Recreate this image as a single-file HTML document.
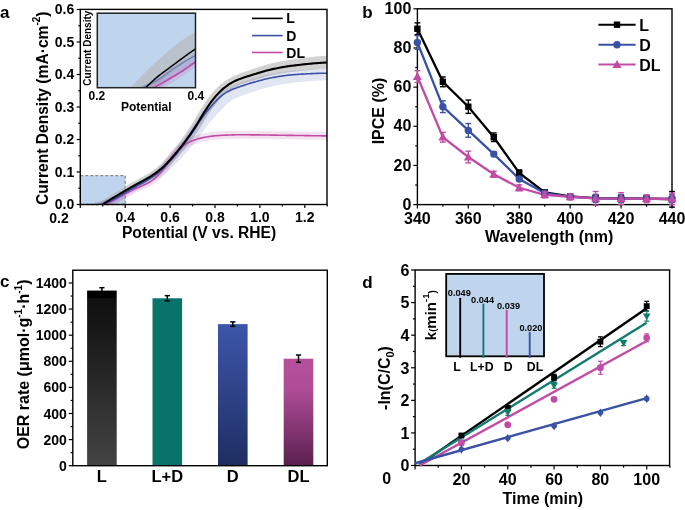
<!DOCTYPE html><html><head><meta charset="utf-8"><style>html,body{margin:0;padding:0;background:#fff;}svg{display:block;will-change:transform;}text{font-family:"Liberation Sans", sans-serif;}</style></head><body><svg width="685" height="510" viewBox="0 0 685 510" font-family='"Liberation Sans", sans-serif'>
<rect width="685" height="510" fill="#fff"/>
<defs>
<clipPath id="ca"><rect x="80.3" y="9.4" width="246.7" height="195.1"/></clipPath>
<clipPath id="ci"><rect x="97.3" y="13.2" width="98.2" height="74.5"/></clipPath>
</defs>
<rect x="80.3" y="175.57" width="44.90" height="28.93" fill="#bfd5ee" stroke="#8a8a8a" stroke-width="1.3" stroke-dasharray="3,2"/>
<g clip-path="url(#ca)">
<path d="M78.39,216.19 L79.24,215.64 L80.08,215.08 L80.93,214.53 L81.78,213.97 L82.62,213.42 L83.47,212.86 L84.32,212.31 L85.16,211.75 L86.01,211.20 L86.86,210.64 L87.71,210.09 L88.55,209.53 L89.40,208.98 L90.25,208.42 L91.09,207.87 L91.94,207.31 L92.79,206.76 L93.63,206.20 L94.48,205.65 L95.33,205.09 L96.17,204.54 L97.02,203.98 L97.87,203.43 L98.72,202.87 L99.56,202.32 L100.39,201.77 L101.22,201.22 L102.06,200.64 L102.93,200.07 L103.79,199.49 L104.65,198.93 L105.52,198.37 L106.38,197.82 L107.25,197.27 L108.12,196.73 L108.99,196.20 L109.86,195.68 L110.72,195.17 L111.58,194.67 L112.42,194.17 L113.26,193.68 L114.09,193.19 L114.92,192.70 L115.75,192.19 L116.59,191.68 L117.43,191.16 L118.27,190.64 L119.12,190.11 L119.98,189.58 L120.84,189.06 L121.70,188.53 L122.57,188.02 L123.43,187.51 L124.28,187.01 L125.14,186.51 L125.99,186.02 L126.85,185.53 L127.70,185.04 L128.55,184.55 L129.40,184.07 L130.25,183.59 L131.10,183.10 L131.95,182.62 L132.80,182.14 L133.66,181.65 L134.52,181.18 L135.38,180.70 L136.24,180.24 L137.09,179.77 L137.94,179.31 L138.79,178.86 L139.63,178.40 L140.47,177.94 L141.31,177.48 L142.14,177.02 L142.98,176.56 L143.80,176.09 L144.63,175.62 L145.45,175.14 L146.28,174.66 L147.10,174.17 L147.92,173.66 L148.74,173.15 L149.56,172.63 L150.38,172.09 L151.19,171.56 L152.01,171.01 L152.82,170.44 L153.63,169.87 L154.43,169.28 L155.24,168.67 L156.05,168.05 L156.85,167.41 L157.66,166.75 L158.47,166.07 L159.28,165.38 L160.09,164.66 L160.90,163.93 L161.70,163.19 L162.51,162.41 L163.32,161.61 L164.13,160.78 L164.95,159.93 L165.77,159.06 L166.60,158.17 L167.42,157.27 L168.23,156.34 L169.04,155.40 L169.85,154.43 L170.66,153.45 L171.48,152.44 L172.30,151.41 L173.13,150.38 L173.95,149.33 L174.78,148.27 L175.60,147.21 L176.43,146.14 L177.25,145.06 L178.08,143.97 L178.90,142.87 L179.72,141.77 L180.55,140.65 L181.37,139.52 L182.19,138.39 L183.02,137.24 L183.84,136.08 L184.66,134.91 L185.49,133.73 L186.30,132.54 L187.12,131.34 L187.94,130.11 L188.76,128.87 L189.58,127.61 L190.40,126.34 L191.23,125.05 L192.05,123.75 L192.88,122.43 L193.69,121.13 L194.50,119.79 L195.31,118.42 L196.13,117.01 L196.96,115.57 L197.80,114.13 L198.65,112.69 L199.51,111.25 L200.38,109.84 L201.24,108.49 L202.09,107.18 L202.93,105.88 L203.78,104.59 L204.63,103.29 L205.49,102.01 L206.35,100.75 L207.22,99.50 L208.10,98.28 L208.99,97.08 L209.88,95.92 L210.79,94.80 L211.67,93.75 L212.54,92.73 L213.42,91.74 L214.30,90.76 L215.18,89.80 L216.07,88.86 L216.97,87.95 L217.88,87.06 L218.79,86.20 L219.71,85.37 L220.64,84.57 L221.57,83.81 L222.47,83.10 L223.37,82.41 L224.27,81.75 L225.18,81.10 L226.09,80.47 L227.00,79.86 L227.92,79.27 L228.84,78.70 L229.77,78.16 L230.71,77.63 L231.65,77.13 L232.58,76.66 L233.51,76.22 L234.43,75.79 L235.34,75.39 L236.24,75.00 L237.14,74.63 L238.03,74.27 L238.91,73.92 L239.78,73.59 L240.64,73.26 L241.50,72.94 L242.36,72.61 L243.24,72.29 L244.12,71.97 L245.00,71.67 L245.88,71.37 L246.74,71.08 L247.60,70.80 L248.45,70.52 L249.30,70.24 L250.14,69.97 L250.97,69.69 L251.80,69.42 L252.64,69.14 L253.48,68.86 L254.32,68.58 L255.16,68.29 L256.01,68.01 L256.86,67.73 L257.71,67.44 L258.57,67.16 L259.42,66.88 L260.28,66.61 L261.15,66.33 L262.01,66.06 L262.88,65.79 L263.75,65.53 L264.63,65.26 L265.51,65.01 L266.39,64.76 L267.27,64.51 L268.16,64.28 L269.05,64.04 L269.94,63.82 L270.82,63.61 L271.69,63.40 L272.55,63.20 L273.41,63.00 L274.27,62.80 L275.13,62.61 L276.00,62.42 L276.86,62.23 L277.73,62.04 L278.59,61.86 L279.46,61.68 L280.32,61.50 L281.19,61.33 L282.06,61.16 L282.93,61.00 L283.80,60.84 L284.67,60.69 L285.54,60.53 L286.41,60.38 L287.28,60.24 L288.15,60.10 L289.03,59.96 L289.90,59.82 L290.78,59.70 L291.64,59.57 L292.50,59.45 L293.35,59.33 L294.20,59.21 L295.05,59.09 L295.90,58.97 L296.76,58.85 L297.61,58.74 L298.46,58.62 L299.32,58.51 L300.17,58.39 L301.03,58.28 L301.88,58.17 L302.74,58.06 L303.59,57.95 L304.45,57.84 L305.31,57.73 L306.17,57.63 L307.03,57.52 L307.88,57.42 L308.74,57.32 L309.60,57.22 L310.46,57.12 L311.33,57.03 L312.19,56.93 L313.05,56.84 L313.91,56.75 L314.77,56.66 L315.64,56.58 L316.50,56.49 L317.37,56.41 L318.23,56.33 L319.10,56.26 L319.97,56.18 L320.83,56.11 L321.70,56.04 L322.57,55.97 L323.44,55.91 L324.31,55.85 L325.18,55.79 L326.05,55.74 L326.75,55.69 L327.43,55.63 L328.27,55.55 L329.11,55.47 L329.96,55.39 L330.81,55.32 L331.66,55.24 L332.51,55.16 L333.36,55.08 L334.59,68.32 L333.74,68.40 L332.89,68.48 L332.04,68.56 L331.19,68.64 L330.34,68.72 L329.49,68.79 L328.64,68.87 L327.63,68.96 L326.64,69.00 L325.81,69.03 L324.98,69.06 L324.16,69.09 L323.33,69.13 L322.50,69.17 L321.67,69.21 L320.84,69.26 L320.01,69.30 L319.18,69.35 L318.34,69.40 L317.51,69.46 L316.68,69.51 L315.85,69.57 L315.01,69.63 L314.18,69.70 L313.34,69.76 L312.51,69.83 L311.67,69.90 L310.84,69.97 L310.00,70.04 L309.16,70.11 L308.32,70.19 L307.49,70.27 L306.65,70.34 L305.81,70.42 L304.97,70.51 L304.13,70.59 L303.29,70.67 L302.45,70.76 L301.61,70.85 L300.76,70.93 L299.92,71.02 L299.08,71.11 L298.24,71.20 L297.39,71.30 L296.55,71.39 L295.70,71.48 L294.86,71.58 L294.01,71.67 L293.17,71.77 L292.34,71.86 L291.52,71.96 L290.70,72.06 L289.87,72.17 L289.05,72.28 L288.23,72.39 L287.40,72.51 L286.58,72.63 L285.75,72.75 L284.92,72.88 L284.10,73.01 L283.27,73.15 L282.44,73.28 L281.61,73.42 L280.78,73.57 L279.95,73.72 L279.12,73.87 L278.29,74.02 L277.46,74.18 L276.63,74.33 L275.79,74.50 L274.96,74.66 L274.13,74.83 L273.30,75.00 L272.49,75.17 L271.69,75.34 L270.88,75.52 L270.08,75.71 L269.27,75.91 L268.45,76.11 L267.64,76.32 L266.82,76.53 L266.00,76.76 L265.17,76.98 L264.35,77.21 L263.52,77.45 L262.68,77.69 L261.85,77.93 L261.01,78.18 L260.17,78.43 L259.32,78.68 L258.47,78.94 L257.62,79.19 L256.77,79.45 L255.92,79.70 L255.06,79.96 L254.20,80.21 L253.34,80.47 L252.48,80.72 L251.63,80.96 L250.79,81.21 L249.95,81.46 L249.13,81.70 L248.31,81.96 L247.50,82.21 L246.69,82.47 L245.88,82.74 L245.05,83.02 L244.21,83.31 L243.38,83.59 L242.56,83.88 L241.75,84.17 L240.95,84.47 L240.16,84.77 L239.38,85.08 L238.60,85.39 L237.83,85.71 L237.06,86.05 L236.30,86.39 L235.55,86.76 L234.80,87.15 L234.03,87.57 L233.26,88.01 L232.49,88.47 L231.71,88.95 L230.92,89.46 L230.14,89.99 L229.34,90.54 L228.54,91.11 L227.75,91.70 L226.98,92.29 L226.22,92.90 L225.45,93.56 L224.67,94.26 L223.88,95.00 L223.08,95.77 L222.27,96.57 L221.46,97.41 L220.64,98.27 L219.81,99.16 L218.99,100.08 L218.17,101.00 L217.38,101.94 L216.58,102.93 L215.77,103.97 L214.94,105.06 L214.11,106.20 L213.28,107.37 L212.43,108.57 L211.59,109.80 L210.73,111.05 L209.87,112.32 L209.02,113.58 L208.18,114.83 L207.35,116.12 L206.51,117.45 L205.66,118.83 L204.80,120.24 L203.94,121.66 L203.06,123.09 L202.18,124.51 L201.28,125.91 L200.40,127.26 L199.53,128.58 L198.65,129.89 L197.78,131.19 L196.90,132.48 L196.02,133.76 L195.13,135.02 L194.25,136.26 L193.36,137.49 L192.47,138.70 L191.58,139.88 L190.70,141.06 L189.82,142.22 L188.94,143.37 L188.05,144.51 L187.17,145.64 L186.29,146.76 L185.41,147.87 L184.52,148.96 L183.64,150.05 L182.76,151.13 L181.88,152.20 L181.00,153.25 L180.12,154.30 L179.24,155.34 L178.36,156.38 L177.48,157.41 L176.59,158.43 L175.70,159.43 L174.80,160.43 L173.91,161.40 L173.01,162.36 L172.12,163.28 L171.23,164.19 L170.34,165.09 L169.45,165.98 L168.55,166.85 L167.64,167.70 L166.73,168.53 L165.83,169.33 L164.92,170.10 L164.02,170.86 L163.12,171.59 L162.22,172.30 L161.32,172.99 L160.42,173.67 L159.52,174.32 L158.62,174.96 L157.72,175.58 L156.82,176.18 L155.92,176.76 L155.03,177.33 L154.14,177.88 L153.25,178.42 L152.37,178.94 L151.48,179.46 L150.60,179.96 L149.71,180.46 L148.84,180.96 L147.97,181.46 L147.10,181.95 L146.24,182.43 L145.38,182.91 L144.52,183.38 L143.66,183.84 L142.81,184.30 L141.96,184.76 L141.11,185.21 L140.26,185.67 L139.42,186.12 L138.58,186.58 L137.74,187.04 L136.90,187.50 L136.07,187.97 L135.23,188.44 L134.38,188.92 L133.53,189.40 L132.68,189.87 L131.84,190.35 L130.99,190.83 L130.15,191.31 L129.30,191.80 L128.46,192.28 L127.62,192.77 L126.78,193.25 L125.94,193.75 L125.11,194.24 L124.27,194.74 L123.44,195.25 L122.59,195.76 L121.75,196.28 L120.90,196.81 L120.05,197.33 L119.19,197.86 L118.32,198.38 L117.46,198.89 L116.60,199.39 L115.75,199.89 L114.90,200.38 L114.05,200.87 L113.22,201.37 L112.39,201.86 L111.56,202.36 L110.73,202.87 L109.90,203.39 L109.07,203.92 L108.23,204.46 L107.40,205.00 L106.56,205.55 L105.73,206.11 L104.88,206.68 L104.01,207.26 L103.15,207.82 L102.30,208.37 L101.45,208.93 L100.60,209.48 L99.75,210.03 L98.91,210.58 L98.06,211.14 L97.21,211.69 L96.36,212.24 L95.51,212.80 L94.66,213.35 L93.82,213.90 L92.97,214.45 L92.12,215.01 L91.27,215.56 L90.42,216.11 L89.57,216.66 L88.73,217.22 L87.88,217.77 L87.03,218.32 L86.18,218.88 L85.33,219.43 L84.48,219.98 L83.63,220.53 L82.79,221.09 L81.94,221.64 Z" fill="#b5b5b5" fill-opacity="0.61"/>
<path d="M79.46,207.07 L80.31,206.82 L81.15,206.58 L82.00,206.33 L82.85,206.08 L83.70,205.83 L84.55,205.58 L85.40,205.34 L86.25,205.09 L87.09,204.84 L87.94,204.59 L88.79,204.34 L89.64,204.09 L90.49,203.85 L91.34,203.60 L92.18,203.35 L93.03,203.10 L93.88,202.85 L94.73,202.60 L95.58,202.36 L96.43,202.11 L97.28,201.86 L98.28,201.57 L99.25,201.40 L100.03,201.24 L100.81,201.06 L101.60,200.86 L102.39,200.64 L103.19,200.41 L104.00,200.16 L104.81,199.90 L105.62,199.62 L106.44,199.34 L107.27,199.04 L108.08,198.73 L108.86,198.44 L109.61,198.11 L110.37,197.75 L111.16,197.35 L111.97,196.92 L112.79,196.47 L113.63,196.01 L114.48,195.53 L115.33,195.06 L116.16,194.60 L116.98,194.13 L117.81,193.65 L118.64,193.15 L119.48,192.65 L120.33,192.14 L121.19,191.63 L122.05,191.12 L122.91,190.62 L123.76,190.12 L124.61,189.63 L125.46,189.13 L126.31,188.63 L127.15,188.14 L128.00,187.65 L128.85,187.15 L129.69,186.66 L130.54,186.17 L131.38,185.68 L132.23,185.19 L133.08,184.69 L133.94,184.20 L134.80,183.71 L135.65,183.23 L136.50,182.76 L137.35,182.28 L138.20,181.81 L139.04,181.34 L139.88,180.87 L140.72,180.40 L141.56,179.93 L142.39,179.46 L143.22,178.98 L144.05,178.50 L144.88,178.01 L145.70,177.51 L146.52,177.01 L147.34,176.49 L148.16,175.97 L148.99,175.43 L149.81,174.89 L150.62,174.33 L151.44,173.77 L152.25,173.19 L153.06,172.60 L153.87,171.99 L154.68,171.37 L155.49,170.73 L156.29,170.07 L157.10,169.38 L157.91,168.67 L158.72,167.95 L159.54,167.20 L160.36,166.43 L161.17,165.66 L161.97,164.86 L162.78,164.03 L163.59,163.17 L164.41,162.28 L165.24,161.37 L166.08,160.44 L166.92,159.50 L167.77,158.56 L168.61,157.62 L169.44,156.69 L170.28,155.75 L171.11,154.80 L171.94,153.85 L172.77,152.89 L173.60,151.91 L174.42,150.92 L175.25,149.91 L176.08,148.88 L176.91,147.84 L177.74,146.78 L178.57,145.71 L179.40,144.63 L180.24,143.53 L181.07,142.42 L181.91,141.31 L182.74,140.18 L183.58,139.04 L184.41,137.89 L185.25,136.74 L186.09,135.58 L186.91,134.42 L187.74,133.24 L188.56,132.03 L189.39,130.79 L190.22,129.53 L191.06,128.26 L191.90,126.97 L192.75,125.67 L193.59,124.37 L194.44,123.06 L195.29,121.75 L196.14,120.45 L197.00,119.15 L197.86,117.87 L198.72,116.61 L199.59,115.36 L200.46,114.14 L201.33,112.94 L202.20,111.78 L203.06,110.66 L203.92,109.55 L204.78,108.45 L205.64,107.37 L206.51,106.30 L207.38,105.25 L208.25,104.21 L209.12,103.19 L210.00,102.20 L210.88,101.23 L211.76,100.29 L212.63,99.39 L213.48,98.51 L214.34,97.63 L215.21,96.75 L216.09,95.88 L216.97,95.02 L217.87,94.19 L218.78,93.38 L219.71,92.59 L220.65,91.84 L221.61,91.14 L222.57,90.49 L223.50,89.90 L224.42,89.36 L225.33,88.84 L226.24,88.35 L227.15,87.88 L228.05,87.43 L228.95,87.01 L229.84,86.60 L230.72,86.21 L231.60,85.83 L232.48,85.46 L233.36,85.10 L234.26,84.74 L235.15,84.40 L236.03,84.08 L236.91,83.77 L237.78,83.47 L238.65,83.17 L239.51,82.89 L240.36,82.61 L241.21,82.33 L242.05,82.05 L242.89,81.77 L243.74,81.49 L244.59,81.20 L245.44,80.92 L246.30,80.63 L247.17,80.35 L248.04,80.08 L248.91,79.80 L249.79,79.54 L250.65,79.29 L251.50,79.04 L252.35,78.79 L253.20,78.54 L254.05,78.30 L254.91,78.05 L255.76,77.80 L256.62,77.56 L257.47,77.32 L258.33,77.08 L259.19,76.84 L260.05,76.61 L260.91,76.37 L261.78,76.15 L262.64,75.92 L263.51,75.70 L264.38,75.49 L265.25,75.28 L266.12,75.07 L266.99,74.87 L267.86,74.68 L268.74,74.49 L269.62,74.31 L270.49,74.14 L271.36,73.97 L272.22,73.81 L273.07,73.65 L273.92,73.50 L274.78,73.34 L275.64,73.19 L276.49,73.04 L277.35,72.89 L278.21,72.74 L279.07,72.60 L279.94,72.46 L280.80,72.32 L281.66,72.18 L282.53,72.05 L283.40,71.93 L284.26,71.80 L285.13,71.69 L286.00,71.57 L286.88,71.47 L287.75,71.37 L288.62,71.27 L289.50,71.18 L290.38,71.10 L291.26,71.02 L292.12,70.95 L292.98,70.89 L293.83,70.82 L294.68,70.76 L295.53,70.69 L296.38,70.63 L297.23,70.57 L298.08,70.50 L298.93,70.44 L299.79,70.38 L300.64,70.32 L301.49,70.26 L302.34,70.20 L303.20,70.15 L304.05,70.09 L304.90,70.04 L305.76,69.98 L306.61,69.93 L307.47,69.88 L308.32,69.83 L309.18,69.78 L310.03,69.73 L310.89,69.69 L311.74,69.65 L312.60,69.60 L313.46,69.56 L314.31,69.52 L315.17,69.49 L316.03,69.45 L316.88,69.42 L317.74,69.39 L318.60,69.36 L319.46,69.33 L320.32,69.31 L321.18,69.29 L322.03,69.27 L322.89,69.25 L323.75,69.23 L324.61,69.22 L325.47,69.21 L326.34,69.20 L327.11,69.20 L327.87,69.17 L328.71,69.13 L329.56,69.09 L330.41,69.05 L331.25,69.01 L332.10,68.97 L332.95,68.93 L333.80,68.89 L334.31,79.88 L333.46,79.92 L332.61,79.96 L331.76,80.00 L330.92,80.04 L330.07,80.08 L329.22,80.12 L328.36,80.16 L327.36,80.20 L326.37,80.22 L325.55,80.25 L324.72,80.28 L323.89,80.31 L323.06,80.34 L322.24,80.38 L321.41,80.42 L320.58,80.45 L319.75,80.50 L318.92,80.54 L318.09,80.59 L317.26,80.64 L316.43,80.69 L315.60,80.74 L314.77,80.79 L313.93,80.85 L313.10,80.91 L312.27,80.97 L311.43,81.03 L310.60,81.09 L309.77,81.15 L308.93,81.22 L308.10,81.29 L307.26,81.36 L306.43,81.43 L305.59,81.50 L304.75,81.57 L303.92,81.64 L303.08,81.72 L302.24,81.79 L301.40,81.87 L300.56,81.95 L299.72,82.03 L298.88,82.10 L298.04,82.18 L297.20,82.27 L296.36,82.35 L295.52,82.43 L294.67,82.51 L293.83,82.59 L293.00,82.68 L292.19,82.76 L291.41,82.85 L290.62,82.94 L289.83,83.04 L289.04,83.15 L288.24,83.26 L287.45,83.37 L286.65,83.50 L285.85,83.62 L285.05,83.75 L284.24,83.89 L283.43,84.03 L282.62,84.18 L281.81,84.32 L281.00,84.48 L280.18,84.63 L279.36,84.79 L278.54,84.95 L277.72,85.12 L276.89,85.28 L276.06,85.45 L275.23,85.62 L274.40,85.80 L273.57,85.97 L272.77,86.14 L271.99,86.31 L271.21,86.49 L270.43,86.68 L269.65,86.87 L268.86,87.07 L268.07,87.28 L267.27,87.49 L266.48,87.71 L265.68,87.93 L264.87,88.16 L264.07,88.39 L263.26,88.63 L262.45,88.87 L261.63,89.11 L260.81,89.36 L259.99,89.61 L259.17,89.86 L258.34,90.12 L257.51,90.38 L256.67,90.64 L255.84,90.91 L255.00,91.17 L254.16,91.43 L253.36,91.69 L252.59,91.94 L251.81,92.20 L251.02,92.47 L250.22,92.76 L249.41,93.05 L248.59,93.34 L247.76,93.64 L246.92,93.95 L246.06,94.26 L245.20,94.57 L244.36,94.87 L243.53,95.16 L242.72,95.46 L241.93,95.75 L241.16,96.04 L240.40,96.33 L239.65,96.63 L238.93,96.93 L238.21,97.23 L237.47,97.56 L236.70,97.91 L235.94,98.26 L235.20,98.61 L234.48,98.97 L233.77,99.33 L233.08,99.70 L232.40,100.08 L231.73,100.46 L231.07,100.86 L230.42,101.28 L229.81,101.69 L229.28,102.07 L228.76,102.49 L228.18,102.97 L227.56,103.53 L226.91,104.15 L226.22,104.82 L225.50,105.55 L224.75,106.32 L223.98,107.13 L223.19,107.97 L222.38,108.84 L221.54,109.63 L220.74,110.38 L219.93,111.15 L219.11,111.95 L218.29,112.79 L217.45,113.67 L216.60,114.57 L215.75,115.51 L214.88,116.47 L214.01,117.45 L213.14,118.45 L212.26,119.46 L211.42,120.46 L210.58,121.47 L209.73,122.52 L208.87,123.62 L208.00,124.76 L207.13,125.93 L206.24,127.13 L205.35,128.35 L204.45,129.58 L203.54,130.84 L202.63,132.10 L201.71,133.38 L200.78,134.65 L199.85,135.92 L198.92,137.19 L197.97,138.45 L197.02,139.70 L196.07,140.93 L195.12,142.11 L194.19,143.26 L193.27,144.39 L192.35,145.52 L191.42,146.64 L190.49,147.75 L189.57,148.86 L188.64,149.95 L187.71,151.04 L186.78,152.11 L185.85,153.18 L184.92,154.23 L183.98,155.27 L183.05,156.30 L182.11,157.32 L181.16,158.33 L180.22,159.31 L179.29,160.27 L178.36,161.21 L177.43,162.14 L176.51,163.05 L175.60,163.95 L174.69,164.84 L173.78,165.72 L172.88,166.61 L171.96,167.51 L171.03,168.41 L170.09,169.30 L169.14,170.19 L168.17,171.07 L167.20,171.91 L166.25,172.71 L165.30,173.49 L164.36,174.24 L163.41,174.98 L162.46,175.69 L161.51,176.39 L160.55,177.07 L159.60,177.73 L158.65,178.35 L157.71,178.96 L156.76,179.54 L155.83,180.11 L154.90,180.65 L153.97,181.18 L153.05,181.70 L152.13,182.20 L151.21,182.69 L150.28,183.17 L149.38,183.65 L148.50,184.17 L147.63,184.67 L146.75,185.17 L145.88,185.65 L145.02,186.13 L144.15,186.60 L143.29,187.07 L142.44,187.53 L141.58,187.99 L140.73,188.45 L139.89,188.91 L139.04,189.37 L138.20,189.83 L137.36,190.29 L136.53,190.75 L135.69,191.23 L134.84,191.71 L133.99,192.19 L133.13,192.67 L132.28,193.15 L131.43,193.63 L130.58,194.11 L129.74,194.59 L128.89,195.07 L128.04,195.55 L127.19,196.04 L126.34,196.52 L125.50,197.00 L124.67,197.49 L123.83,197.98 L122.98,198.49 L122.12,198.99 L121.25,199.50 L120.37,200.01 L119.49,200.51 L118.61,200.99 L117.76,201.45 L116.92,201.91 L116.05,202.39 L115.17,202.86 L114.26,203.34 L113.33,203.80 L112.38,204.24 L111.41,204.65 L110.46,205.01 L109.58,205.34 L108.69,205.65 L107.81,205.95 L106.91,206.25 L106.02,206.53 L105.11,206.81 L104.20,207.06 L103.29,207.31 L102.36,207.53 L101.44,207.74 L100.50,207.92 L99.79,208.04 L99.13,208.23 L98.29,208.47 L97.44,208.71 L96.59,208.95 L95.74,209.19 L94.89,209.44 L94.04,209.68 L93.19,209.92 L92.34,210.16 L91.49,210.40 L90.64,210.65 L89.79,210.89 L88.93,211.13 L88.08,211.37 L87.23,211.62 L86.38,211.86 L85.53,212.10 L84.68,212.34 L83.83,212.58 L82.98,212.83 L82.13,213.07 L81.28,213.31 Z" fill="#3a52a6" fill-opacity="0.15"/>
<path d="M78.57,212.66 L79.42,212.25 L80.26,211.84 L81.11,211.44 L81.96,211.03 L82.81,210.62 L83.66,210.21 L84.51,209.80 L85.35,209.40 L86.20,208.99 L87.05,208.58 L87.90,208.17 L88.75,207.76 L89.60,207.36 L90.45,206.95 L91.29,206.54 L92.14,206.13 L92.99,205.73 L93.84,205.32 L94.69,204.91 L95.54,204.50 L96.38,204.09 L97.23,203.69 L98.08,203.28 L98.93,202.87 L99.78,202.46 L100.63,202.05 L101.47,201.65 L102.33,201.23 L103.24,200.80 L104.13,200.41 L104.95,200.04 L105.78,199.66 L106.61,199.28 L107.44,198.89 L108.27,198.50 L109.10,198.10 L109.94,197.69 L110.77,197.28 L111.60,196.87 L112.44,196.45 L113.28,196.03 L114.11,195.60 L114.94,195.17 L115.76,194.75 L116.57,194.31 L117.40,193.86 L118.23,193.40 L119.07,192.92 L119.92,192.45 L120.77,191.97 L121.64,191.49 L122.49,191.02 L123.33,190.56 L124.18,190.09 L125.02,189.62 L125.87,189.15 L126.73,188.67 L127.58,188.20 L128.44,187.73 L129.31,187.26 L130.18,186.79 L131.05,186.33 L131.93,185.88 L132.83,185.43 L133.74,184.99 L134.64,184.57 L135.53,184.17 L136.41,183.79 L137.28,183.42 L138.14,183.05 L139.00,182.70 L139.84,182.35 L140.67,181.99 L141.49,181.64 L142.30,181.28 L143.10,180.92 L143.90,180.55 L144.68,180.16 L145.46,179.76 L146.23,179.35 L147.00,178.91 L147.76,178.45 L148.53,177.96 L149.30,177.44 L150.07,176.89 L150.85,176.31 L151.63,175.71 L152.41,175.07 L153.20,174.40 L153.99,173.71 L154.79,172.99 L155.59,172.23 L156.39,171.45 L157.19,170.64 L157.99,169.81 L158.73,169.00 L159.44,168.13 L160.19,167.12 L160.97,165.99 L161.78,164.76 L162.60,163.45 L163.44,162.10 L164.30,160.72 L165.17,159.33 L166.06,157.96 L166.97,156.63 L167.91,155.35 L168.84,154.19 L169.73,153.14 L170.60,152.12 L171.48,151.11 L172.37,150.13 L173.27,149.16 L174.17,148.22 L175.08,147.31 L176.00,146.44 L176.93,145.59 L177.87,144.79 L178.80,144.05 L179.71,143.35 L180.62,142.68 L181.53,142.04 L182.45,141.41 L183.38,140.82 L184.32,140.25 L185.27,139.70 L186.22,139.19 L187.18,138.72 L188.10,138.29 L189.00,137.90 L189.90,137.51 L190.79,137.14 L191.69,136.79 L192.59,136.44 L193.50,136.11 L194.40,135.80 L195.31,135.50 L196.22,135.21 L197.13,134.94 L198.04,134.69 L198.95,134.45 L199.86,134.23 L200.75,134.02 L201.63,133.83 L202.51,133.64 L203.39,133.46 L204.27,133.29 L205.15,133.12 L206.03,132.97 L206.91,132.82 L207.80,132.67 L208.69,132.54 L209.58,132.41 L210.46,132.30 L211.36,132.19 L212.24,132.10 L213.11,132.01 L213.97,131.92 L214.83,131.84 L215.70,131.76 L216.56,131.69 L217.43,131.62 L218.30,131.55 L219.16,131.49 L220.03,131.43 L220.90,131.37 L221.77,131.32 L222.64,131.28 L223.51,131.24 L224.37,131.20 L225.22,131.16 L226.07,131.13 L226.92,131.10 L227.77,131.06 L228.63,131.03 L229.48,131.00 L230.34,130.97 L231.19,130.94 L232.05,130.91 L232.91,130.89 L233.77,130.86 L234.63,130.84 L235.49,130.83 L236.35,130.81 L237.22,130.80 L238.08,130.79 L238.95,130.79 L239.81,130.79 L240.66,130.79 L241.51,130.79 L242.36,130.79 L243.21,130.79 L244.06,130.80 L244.92,130.80 L245.77,130.80 L246.62,130.81 L247.47,130.81 L248.32,130.82 L249.17,130.82 L250.02,130.83 L250.87,130.84 L251.72,130.84 L252.57,130.85 L253.42,130.86 L254.27,130.87 L255.12,130.87 L255.97,130.88 L256.82,130.89 L257.67,130.90 L258.52,130.91 L259.37,130.92 L260.22,130.93 L261.07,130.94 L261.92,130.96 L262.77,130.97 L263.62,130.98 L264.47,130.99 L265.32,131.00 L266.17,131.01 L267.02,131.03 L267.87,131.04 L268.71,131.05 L269.56,131.06 L270.41,131.08 L271.26,131.09 L272.11,131.10 L272.96,131.12 L273.81,131.13 L274.66,131.14 L275.50,131.15 L276.35,131.17 L277.20,131.18 L278.05,131.19 L278.90,131.21 L279.75,131.22 L280.60,131.23 L281.44,131.25 L282.29,131.26 L283.14,131.27 L283.99,131.29 L284.84,131.30 L285.68,131.31 L286.53,131.32 L287.38,131.34 L288.23,131.35 L289.07,131.36 L289.92,131.37 L290.77,131.39 L291.62,131.40 L292.46,131.41 L293.31,131.42 L294.16,131.43 L295.01,131.44 L295.86,131.45 L296.71,131.46 L297.56,131.48 L298.41,131.49 L299.25,131.50 L300.10,131.51 L300.95,131.52 L301.80,131.54 L302.65,131.55 L303.50,131.56 L304.35,131.57 L305.20,131.58 L306.04,131.60 L306.89,131.61 L307.74,131.62 L308.59,131.63 L309.44,131.65 L310.29,131.66 L311.14,131.67 L311.99,131.69 L312.83,131.70 L313.68,131.71 L314.53,131.72 L315.38,131.74 L316.23,131.75 L317.08,131.76 L317.93,131.78 L318.78,131.79 L319.62,131.80 L320.47,131.82 L321.32,131.83 L322.17,131.84 L323.02,131.86 L323.87,131.87 L324.72,131.88 L325.56,131.90 L326.41,131.91 L327.26,131.92 L328.11,131.94 L328.95,131.95 L329.80,131.96 L330.65,131.98 L331.50,131.99 L332.35,132.00 L333.20,132.01 L334.04,132.03 L333.93,140.02 L333.08,140.01 L332.23,140.00 L331.38,139.99 L330.53,139.97 L329.68,139.96 L328.83,139.95 L327.99,139.94 L327.14,139.92 L326.28,139.91 L325.44,139.90 L324.59,139.88 L323.74,139.87 L322.89,139.86 L322.04,139.84 L321.20,139.83 L320.35,139.82 L319.50,139.80 L318.65,139.79 L317.80,139.78 L316.95,139.76 L316.11,139.75 L315.26,139.74 L314.41,139.72 L313.56,139.71 L312.71,139.70 L311.86,139.68 L311.02,139.67 L310.17,139.66 L309.32,139.65 L308.47,139.63 L307.62,139.62 L306.78,139.61 L305.93,139.60 L305.08,139.58 L304.23,139.57 L303.38,139.56 L302.54,139.55 L301.69,139.54 L300.84,139.52 L299.99,139.51 L299.14,139.50 L298.29,139.49 L297.45,139.48 L296.60,139.46 L295.75,139.45 L294.90,139.44 L294.05,139.43 L293.21,139.42 L292.36,139.41 L291.51,139.40 L290.66,139.38 L289.81,139.37 L288.96,139.36 L288.11,139.35 L287.26,139.34 L286.41,139.32 L285.56,139.31 L284.72,139.30 L283.87,139.29 L283.02,139.27 L282.17,139.26 L281.32,139.25 L280.47,139.23 L279.62,139.22 L278.77,139.21 L277.92,139.19 L277.08,139.18 L276.23,139.17 L275.38,139.15 L274.53,139.14 L273.68,139.13 L272.84,139.11 L271.99,139.10 L271.14,139.09 L270.29,139.08 L269.44,139.06 L268.60,139.05 L267.75,139.04 L266.90,139.02 L266.05,139.01 L265.20,139.00 L264.36,138.99 L263.51,138.98 L262.66,138.97 L261.81,138.95 L260.97,138.94 L260.12,138.93 L259.27,138.92 L258.43,138.91 L257.58,138.90 L256.73,138.89 L255.89,138.88 L255.04,138.87 L254.19,138.87 L253.35,138.86 L252.50,138.85 L251.65,138.84 L250.81,138.84 L249.96,138.83 L249.11,138.82 L248.27,138.82 L247.42,138.81 L246.57,138.81 L245.73,138.80 L244.88,138.80 L244.04,138.80 L243.19,138.79 L242.34,138.79 L241.50,138.79 L240.65,138.79 L239.81,138.79 L238.97,138.79 L238.14,138.79 L237.31,138.80 L236.47,138.81 L235.64,138.82 L234.80,138.84 L233.97,138.86 L233.13,138.88 L232.29,138.91 L231.45,138.93 L230.61,138.96 L229.77,138.99 L228.93,139.02 L228.09,139.06 L227.24,139.09 L226.39,139.12 L225.55,139.16 L224.70,139.19 L223.87,139.23 L223.04,139.27 L222.21,139.31 L221.38,139.36 L220.55,139.41 L219.73,139.47 L218.90,139.53 L218.07,139.59 L217.23,139.66 L216.40,139.73 L215.57,139.81 L214.74,139.89 L213.91,139.97 L213.08,140.05 L212.26,140.14 L211.46,140.24 L210.65,140.34 L209.84,140.46 L209.03,140.58 L208.22,140.71 L207.41,140.85 L206.59,140.99 L205.78,141.15 L204.96,141.31 L204.14,141.47 L203.32,141.65 L202.50,141.83 L201.70,142.01 L200.91,142.21 L200.12,142.41 L199.34,142.63 L198.55,142.86 L197.77,143.11 L196.98,143.37 L196.18,143.65 L195.39,143.94 L194.59,144.24 L193.80,144.56 L193.00,144.89 L192.20,145.23 L191.39,145.59 L190.62,145.94 L189.88,146.31 L189.14,146.70 L188.39,147.13 L187.63,147.60 L186.86,148.09 L186.09,148.62 L185.30,149.17 L184.51,149.75 L183.73,150.35 L182.96,150.96 L182.21,151.60 L181.44,152.30 L180.67,153.04 L179.88,153.82 L179.08,154.65 L178.28,155.52 L177.47,156.42 L176.65,157.35 L175.83,158.31 L175.02,159.28 L174.25,160.23 L173.50,161.25 L172.72,162.40 L171.91,163.64 L171.08,164.95 L170.24,166.31 L169.38,167.69 L168.51,169.08 L167.62,170.44 L166.70,171.77 L165.75,173.05 L164.77,174.25 L163.82,175.28 L162.92,176.22 L162.03,177.12 L161.13,178.00 L160.23,178.85 L159.33,179.67 L158.42,180.47 L157.51,181.23 L156.60,181.97 L155.69,182.68 L154.77,183.37 L153.84,184.02 L152.92,184.65 L151.98,185.24 L151.05,185.81 L150.12,186.34 L149.19,186.84 L148.27,187.31 L147.36,187.76 L146.46,188.18 L145.56,188.59 L144.68,188.98 L143.80,189.35 L142.94,189.72 L142.08,190.08 L141.24,190.43 L140.40,190.78 L139.58,191.13 L138.76,191.49 L137.96,191.85 L137.16,192.22 L136.37,192.60 L135.57,193.01 L134.75,193.43 L133.93,193.86 L133.10,194.30 L132.27,194.75 L131.44,195.21 L130.60,195.67 L129.75,196.14 L128.91,196.61 L128.06,197.09 L127.20,197.56 L126.35,198.03 L125.50,198.49 L124.67,198.96 L123.83,199.43 L122.98,199.90 L122.13,200.38 L121.26,200.86 L120.39,201.34 L119.51,201.81 L118.63,202.28 L117.76,202.72 L116.90,203.16 L116.04,203.60 L115.17,204.03 L114.31,204.46 L113.45,204.88 L112.58,205.30 L111.72,205.72 L110.85,206.13 L109.99,206.53 L109.12,206.93 L108.25,207.33 L107.38,207.72 L106.57,208.08 L105.78,208.45 L104.94,208.86 L104.09,209.26 L103.24,209.67 L102.40,210.08 L101.55,210.49 L100.70,210.90 L99.85,211.30 L99.00,211.71 L98.15,212.12 L97.31,212.53 L96.46,212.94 L95.61,213.34 L94.76,213.75 L93.91,214.16 L93.06,214.57 L92.21,214.97 L91.37,215.38 L90.52,215.79 L89.67,216.20 L88.82,216.61 L87.97,217.01 L87.12,217.42 L86.28,217.83 L85.43,218.24 L84.58,218.65 L83.73,219.05 L82.88,219.46 L82.03,219.87 Z" fill="#c14ca6" fill-opacity="0.16"/>
<path d="M104.77,204.50 L105.90,204.00 L107.03,203.49 L108.16,202.97 L109.29,202.44 L110.42,201.90 L111.55,201.36 L112.68,200.80 L113.80,200.24 L114.93,199.67 L116.06,199.10 L117.19,198.51 L118.32,197.91 L119.45,197.29 L120.58,196.66 L121.71,196.03 L122.84,195.40 L123.97,194.77 L125.10,194.15 L126.23,193.53 L127.36,192.90 L128.49,192.27 L129.61,191.65 L130.74,191.03 L131.87,190.42 L133.00,189.83 L134.13,189.25 L135.26,188.69 L136.39,188.17 L137.52,187.67 L138.65,187.18 L139.78,186.71 L140.91,186.23 L142.04,185.76 L143.17,185.28 L144.29,184.77 L145.42,184.25 L146.55,183.70 L147.68,183.11 L148.81,182.48 L149.94,181.80 L151.07,181.07 L152.20,180.29 L153.33,179.45 L154.46,178.56 L155.59,177.63 L156.72,176.64 L157.85,175.60 L158.98,174.51 L160.10,173.38 L161.23,172.19 L162.36,170.89 L163.49,169.38 L164.62,167.72 L165.75,165.96 L166.88,164.14 L168.01,162.32 L169.14,160.56 L170.27,158.90 L171.40,157.39 L172.53,156.03 L173.66,154.70 L174.79,153.42 L175.91,152.18 L177.04,151.00 L178.17,149.88 L179.30,148.83 L180.43,147.86 L181.56,146.97 L182.69,146.12 L183.82,145.32 L184.95,144.56 L186.08,143.86 L187.21,143.20 L188.34,142.60 L189.47,142.07 L190.59,141.56 L191.72,141.08 L192.85,140.63 L193.98,140.19 L195.11,139.78 L196.24,139.40 L197.37,139.04 L198.50,138.71 L199.63,138.40 L200.76,138.13 L201.89,137.87 L203.02,137.62 L204.15,137.39 L205.28,137.17 L206.40,136.96 L207.53,136.77 L208.66,136.59 L209.79,136.42 L210.92,136.27 L212.05,136.14 L213.18,136.02 L214.31,135.91 L215.44,135.80 L216.57,135.70 L217.70,135.61 L218.83,135.52 L219.96,135.44 L221.09,135.37 L222.21,135.30 L223.34,135.25 L224.47,135.20 L225.60,135.15 L226.73,135.11 L227.86,135.06 L228.99,135.02 L230.12,134.98 L231.25,134.94 L232.38,134.90 L233.51,134.87 L234.64,134.84 L235.77,134.82 L236.89,134.80 L238.02,134.79 L239.15,134.79 L240.28,134.79 L241.41,134.79 L242.54,134.79 L243.67,134.79 L244.80,134.80 L245.93,134.80 L247.06,134.81 L248.19,134.82 L249.32,134.82 L250.45,134.83 L251.58,134.84 L252.70,134.85 L253.83,134.86 L254.96,134.87 L256.09,134.89 L257.22,134.90 L258.35,134.91 L259.48,134.92 L260.61,134.94 L261.74,134.95 L262.87,134.97 L264.00,134.98 L265.13,135.00 L266.26,135.02 L267.39,135.03 L268.51,135.05 L269.64,135.06 L270.77,135.08 L271.90,135.10 L273.03,135.12 L274.16,135.13 L275.29,135.15 L276.42,135.17 L277.55,135.19 L278.68,135.20 L279.81,135.22 L280.94,135.24 L282.07,135.26 L283.19,135.28 L284.32,135.29 L285.45,135.31 L286.58,135.33 L287.71,135.34 L288.84,135.36 L289.97,135.37 L291.10,135.39 L292.23,135.41 L293.36,135.42 L294.49,135.44 L295.62,135.45 L296.75,135.47 L297.88,135.48 L299.00,135.50 L300.13,135.51 L301.26,135.53 L302.39,135.54 L303.52,135.56 L304.65,135.58 L305.78,135.59 L306.91,135.61 L308.04,135.63 L309.17,135.64 L310.30,135.66 L311.43,135.68 L312.56,135.69 L313.69,135.71 L314.81,135.73 L315.94,135.75 L317.07,135.76 L318.20,135.78 L319.33,135.80 L320.46,135.82 L321.59,135.83 L322.72,135.85 L323.85,135.87 L324.98,135.89 L326.11,135.91 L327.24,135.92 L328.37,135.94 L329.50,135.96" fill="none" stroke="#c14ca6" stroke-width="1.6"/>
<path d="M98.93,204.50 L100.09,204.29 L101.25,204.04 L102.41,203.75 L103.57,203.43 L104.73,203.08 L105.89,202.70 L107.04,202.31 L108.20,201.89 L109.36,201.46 L110.52,200.99 L111.68,200.45 L112.84,199.86 L114.00,199.23 L115.15,198.59 L116.31,197.95 L117.47,197.31 L118.63,196.64 L119.79,195.96 L120.95,195.27 L122.11,194.58 L123.26,193.89 L124.42,193.21 L125.58,192.54 L126.74,191.87 L127.90,191.20 L129.06,190.54 L130.22,189.87 L131.37,189.21 L132.53,188.54 L133.69,187.88 L134.85,187.22 L136.01,186.57 L137.17,185.92 L138.33,185.29 L139.48,184.65 L140.64,184.02 L141.80,183.38 L142.96,182.74 L144.12,182.09 L145.28,181.43 L146.44,180.75 L147.59,180.06 L148.75,179.36 L149.91,178.63 L151.07,177.88 L152.23,177.11 L153.39,176.32 L154.55,175.50 L155.70,174.65 L156.86,173.77 L158.02,172.85 L159.18,171.88 L160.34,170.88 L161.50,169.84 L162.66,168.77 L163.82,167.66 L164.97,166.50 L166.13,165.29 L167.29,164.04 L168.45,162.77 L169.61,161.49 L170.77,160.22 L171.93,158.94 L173.08,157.64 L174.24,156.33 L175.40,155.00 L176.56,153.64 L177.72,152.25 L178.88,150.82 L180.04,149.37 L181.19,147.90 L182.35,146.41 L183.51,144.89 L184.67,143.36 L185.83,141.80 L186.99,140.24 L188.15,138.65 L189.30,137.06 L190.46,135.42 L191.62,133.74 L192.78,132.02 L193.94,130.27 L195.10,128.49 L196.26,126.71 L197.41,124.93 L198.57,123.16 L199.73,121.41 L200.89,119.69 L202.05,118.01 L203.21,116.37 L204.37,114.80 L205.52,113.28 L206.68,111.79 L207.84,110.32 L209.00,108.88 L210.16,107.48 L211.32,106.11 L212.48,104.79 L213.63,103.53 L214.79,102.31 L215.95,101.12 L217.11,99.93 L218.27,98.78 L219.43,97.66 L220.59,96.59 L221.75,95.59 L222.90,94.67 L224.06,93.84 L225.22,93.10 L226.38,92.41 L227.54,91.77 L228.70,91.17 L229.86,90.60 L231.01,90.07 L232.17,89.55 L233.33,89.06 L234.49,88.58 L235.65,88.13 L236.81,87.70 L237.97,87.29 L239.12,86.89 L240.28,86.51 L241.44,86.13 L242.60,85.75 L243.76,85.37 L244.92,84.99 L246.08,84.60 L247.23,84.23 L248.39,83.85 L249.55,83.49 L250.71,83.14 L251.87,82.81 L253.03,82.47 L254.19,82.14 L255.34,81.81 L256.50,81.48 L257.66,81.15 L258.82,80.83 L259.98,80.51 L261.14,80.20 L262.30,79.90 L263.45,79.60 L264.61,79.31 L265.77,79.03 L266.93,78.76 L268.09,78.50 L269.25,78.25 L270.41,78.02 L271.56,77.79 L272.72,77.58 L273.88,77.37 L275.04,77.16 L276.20,76.96 L277.36,76.76 L278.52,76.56 L279.68,76.37 L280.83,76.19 L281.99,76.01 L283.15,75.84 L284.31,75.68 L285.47,75.52 L286.63,75.38 L287.79,75.24 L288.94,75.12 L290.10,75.00 L291.26,74.90 L292.42,74.81 L293.58,74.73 L294.74,74.64 L295.90,74.56 L297.05,74.48 L298.21,74.40 L299.37,74.32 L300.53,74.24 L301.69,74.16 L302.85,74.09 L304.01,74.02 L305.16,73.95 L306.32,73.88 L307.48,73.81 L308.64,73.75 L309.80,73.69 L310.96,73.63 L312.12,73.58 L313.27,73.52 L314.43,73.48 L315.59,73.43 L316.75,73.39 L317.91,73.35 L319.07,73.32 L320.23,73.29 L321.38,73.26 L322.54,73.24 L323.70,73.22 L324.86,73.21 L326.02,73.20 L327.18,73.20 L328.34,73.15 L329.50,73.10" fill="none" stroke="#3a52a6" stroke-width="1.6"/>
<path d="M102.75,204.50 L103.89,203.73 L105.03,202.97 L106.17,202.22 L107.31,201.49 L108.45,200.76 L109.59,200.05 L110.73,199.36 L111.87,198.68 L113.00,198.01 L114.14,197.35 L115.28,196.69 L116.42,196.02 L117.56,195.33 L118.70,194.64 L119.84,193.94 L120.98,193.24 L122.12,192.54 L123.26,191.85 L124.40,191.17 L125.54,190.51 L126.68,189.85 L127.82,189.19 L128.96,188.54 L130.10,187.89 L131.24,187.25 L132.37,186.60 L133.51,185.96 L134.65,185.32 L135.79,184.69 L136.93,184.06 L138.07,183.44 L139.21,182.83 L140.35,182.22 L141.49,181.60 L142.63,180.99 L143.77,180.37 L144.91,179.74 L146.05,179.10 L147.19,178.44 L148.33,177.78 L149.47,177.09 L150.61,176.38 L151.75,175.66 L152.88,174.93 L154.02,174.16 L155.16,173.38 L156.30,172.56 L157.44,171.72 L158.58,170.84 L159.72,169.93 L160.86,168.99 L162.00,168.01 L163.14,167.00 L164.28,165.96 L165.42,164.86 L166.56,163.72 L167.70,162.55 L168.84,161.34 L169.98,160.11 L171.12,158.85 L172.25,157.55 L173.39,156.22 L174.53,154.85 L175.67,153.47 L176.81,152.06 L177.95,150.65 L179.09,149.22 L180.23,147.77 L181.37,146.30 L182.51,144.82 L183.65,143.32 L184.79,141.80 L185.93,140.27 L187.07,138.71 L188.21,137.13 L189.35,135.53 L190.49,133.90 L191.62,132.24 L192.76,130.55 L193.90,128.83 L195.04,127.09 L196.18,125.33 L197.32,123.55 L198.46,121.72 L199.60,119.82 L200.74,117.91 L201.88,116.00 L203.02,114.11 L204.16,112.29 L205.30,110.55 L206.44,108.82 L207.58,107.10 L208.72,105.41 L209.86,103.75 L211.00,102.14 L212.13,100.60 L213.27,99.12 L214.41,97.72 L215.55,96.40 L216.69,95.12 L217.83,93.87 L218.97,92.67 L220.11,91.52 L221.25,90.42 L222.39,89.38 L223.53,88.40 L224.67,87.49 L225.81,86.62 L226.95,85.79 L228.09,84.99 L229.23,84.23 L230.37,83.51 L231.50,82.83 L232.64,82.19 L233.78,81.60 L234.92,81.04 L236.06,80.52 L237.20,80.03 L238.34,79.56 L239.48,79.12 L240.62,78.70 L241.76,78.28 L242.90,77.88 L244.04,77.48 L245.18,77.09 L246.32,76.71 L247.46,76.35 L248.60,75.99 L249.74,75.65 L250.87,75.30 L252.01,74.95 L253.15,74.60 L254.29,74.25 L255.43,73.90 L256.57,73.54 L257.71,73.19 L258.85,72.84 L259.99,72.49 L261.13,72.14 L262.27,71.80 L263.41,71.47 L264.55,71.14 L265.69,70.82 L266.83,70.51 L267.97,70.21 L269.11,69.93 L270.25,69.65 L271.38,69.39 L272.52,69.14 L273.66,68.90 L274.80,68.66 L275.94,68.43 L277.08,68.20 L278.22,67.98 L279.36,67.76 L280.50,67.55 L281.64,67.34 L282.78,67.14 L283.92,66.95 L285.06,66.76 L286.20,66.58 L287.34,66.40 L288.48,66.23 L289.62,66.07 L290.75,65.91 L291.89,65.77 L293.03,65.62 L294.17,65.48 L295.31,65.34 L296.45,65.21 L297.59,65.07 L298.73,64.93 L299.87,64.80 L301.01,64.67 L302.15,64.54 L303.29,64.41 L304.43,64.28 L305.57,64.16 L306.71,64.04 L307.85,63.92 L308.99,63.81 L310.12,63.70 L311.26,63.59 L312.40,63.48 L313.54,63.38 L314.68,63.28 L315.82,63.19 L316.96,63.10 L318.10,63.01 L319.24,62.93 L320.38,62.85 L321.52,62.77 L322.66,62.70 L323.80,62.64 L324.94,62.58 L326.08,62.53 L327.22,62.48 L328.36,62.37 L329.50,62.27" fill="none" stroke="#000" stroke-width="2.1"/>
</g>
<rect x="97.3" y="13.2" width="98.2" height="74.5" fill="#bfd5ee"/>
<g clip-path="url(#ci)">
<path d="M126.00,92.50 L126.60,91.86 L127.20,91.21 L127.80,90.57 L128.40,89.93 L129.00,89.29 L129.61,88.65 L130.21,88.02 L130.81,87.39 L131.41,86.76 L132.01,86.12 L132.61,85.49 L133.21,84.85 L133.81,84.22 L134.41,83.58 L135.01,82.95 L135.61,82.31 L136.21,81.68 L136.82,81.04 L137.42,80.41 L138.02,79.78 L138.62,79.14 L139.22,78.51 L139.82,77.88 L140.42,77.25 L141.02,76.63 L141.62,76.00 L142.22,75.38 L142.82,74.76 L143.42,74.14 L144.03,73.52 L144.63,72.91 L145.23,72.30 L145.83,71.69 L146.43,71.09 L147.03,70.49 L147.63,69.89 L148.23,69.30 L148.83,68.71 L149.43,68.13 L150.03,67.55 L150.63,66.97 L151.24,66.40 L151.84,65.84 L152.44,65.27 L153.04,64.72 L153.64,64.16 L154.24,63.61 L154.84,63.07 L155.44,62.53 L156.04,61.99 L156.64,61.45 L157.24,60.91 L157.84,60.38 L158.45,59.85 L159.05,59.32 L159.65,58.79 L160.25,58.27 L160.85,57.74 L161.45,57.22 L162.05,56.69 L162.65,56.17 L163.25,55.64 L163.85,55.12 L164.45,54.59 L165.05,54.06 L165.66,53.53 L166.26,53.00 L166.86,52.47 L167.46,51.95 L168.06,51.42 L168.66,50.90 L169.26,50.37 L169.86,49.85 L170.46,49.34 L171.06,48.82 L171.66,48.31 L172.26,47.81 L172.87,47.31 L173.47,46.81 L174.07,46.33 L174.67,45.84 L175.27,45.37 L175.87,44.90 L176.47,44.44 L177.07,43.98 L177.67,43.52 L178.27,43.07 L178.87,42.62 L179.47,42.17 L180.08,41.73 L180.68,41.29 L181.28,40.85 L181.88,40.42 L182.48,39.99 L183.08,39.57 L183.68,39.15 L184.28,38.74 L184.88,38.33 L185.48,37.93 L186.08,37.53 L186.68,37.14 L187.29,36.75 L187.89,36.37 L188.49,35.99 L189.09,35.62 L189.69,35.26 L190.29,34.90 L190.89,34.55 L191.49,34.20 L192.09,33.86 L192.69,33.52 L193.29,33.19 L193.89,32.86 L194.50,32.54 L195.10,32.22 L195.70,31.91 L196.30,31.60 L196.90,31.30 L197.50,31.00 L197.50,55.00 L197.10,55.25 L196.70,55.50 L196.30,55.75 L195.90,56.00 L195.50,56.25 L195.11,56.50 L194.71,56.75 L194.31,57.01 L193.91,57.26 L193.51,57.52 L193.11,57.78 L192.71,58.04 L192.31,58.29 L191.91,58.55 L191.51,58.82 L191.11,59.08 L190.71,59.34 L190.32,59.60 L189.92,59.87 L189.52,60.13 L189.12,60.40 L188.72,60.67 L188.32,60.93 L187.92,61.20 L187.52,61.47 L187.12,61.74 L186.72,62.01 L186.32,62.29 L185.92,62.56 L185.53,62.83 L185.13,63.11 L184.73,63.38 L184.33,63.66 L183.93,63.93 L183.53,64.21 L183.13,64.49 L182.73,64.77 L182.33,65.05 L181.93,65.33 L181.53,65.61 L181.13,65.89 L180.74,66.18 L180.34,66.46 L179.94,66.75 L179.54,67.03 L179.14,67.32 L178.74,67.61 L178.34,67.90 L177.94,68.19 L177.54,68.48 L177.14,68.78 L176.74,69.07 L176.34,69.36 L175.95,69.66 L175.55,69.96 L175.15,70.26 L174.75,70.55 L174.35,70.85 L173.95,71.16 L173.55,71.46 L173.15,71.76 L172.75,72.06 L172.35,72.37 L171.95,72.68 L171.55,72.98 L171.16,73.29 L170.76,73.60 L170.36,73.91 L169.96,74.22 L169.56,74.53 L169.16,74.84 L168.76,75.16 L168.36,75.47 L167.96,75.78 L167.56,76.09 L167.16,76.41 L166.76,76.72 L166.37,77.04 L165.97,77.35 L165.57,77.67 L165.17,77.99 L164.77,78.31 L164.37,78.63 L163.97,78.95 L163.57,79.27 L163.17,79.59 L162.77,79.92 L162.37,80.25 L161.97,80.58 L161.58,80.91 L161.18,81.25 L160.78,81.58 L160.38,81.92 L159.98,82.26 L159.58,82.61 L159.18,82.96 L158.78,83.31 L158.38,83.66 L157.98,84.02 L157.58,84.38 L157.18,84.74 L156.79,85.11 L156.39,85.48 L155.99,85.85 L155.59,86.24 L155.19,86.62 L154.79,87.02 L154.39,87.41 L153.99,87.81 L153.59,88.22 L153.19,88.62 L152.79,89.04 L152.39,89.45 L152.00,89.87 L151.60,90.29 L151.20,90.71 L150.80,91.14 L150.40,91.57 L150.00,92.00 Z" fill="#b5b5b5" fill-opacity="0.61"/>
<path d="M150.00,84.50 L150.40,84.27 L150.81,84.03 L151.21,83.80 L151.61,83.56 L152.02,83.33 L152.42,83.09 L152.82,82.86 L153.23,82.62 L153.63,82.39 L154.03,82.15 L154.44,81.92 L154.84,81.69 L155.24,81.45 L155.65,81.22 L156.05,80.98 L156.45,80.75 L156.86,80.52 L157.26,80.28 L157.66,80.05 L158.07,79.82 L158.47,79.58 L158.87,79.35 L159.28,79.12 L159.68,78.88 L160.08,78.65 L160.49,78.42 L160.89,78.18 L161.29,77.95 L161.70,77.72 L162.10,77.48 L162.50,77.25 L162.91,77.01 L163.31,76.78 L163.71,76.55 L164.12,76.31 L164.52,76.08 L164.92,75.84 L165.33,75.61 L165.73,75.37 L166.13,75.14 L166.54,74.90 L166.94,74.66 L167.34,74.43 L167.75,74.19 L168.15,73.95 L168.55,73.72 L168.96,73.48 L169.36,73.24 L169.76,73.00 L170.17,72.76 L170.57,72.53 L170.97,72.29 L171.38,72.05 L171.78,71.82 L172.18,71.58 L172.59,71.34 L172.99,71.11 L173.39,70.87 L173.80,70.63 L174.20,70.40 L174.61,70.16 L175.01,69.92 L175.41,69.68 L175.82,69.44 L176.22,69.21 L176.62,68.97 L177.03,68.72 L177.43,68.48 L177.83,68.24 L178.24,68.00 L178.64,67.75 L179.04,67.51 L179.45,67.26 L179.85,67.01 L180.25,66.76 L180.66,66.51 L181.06,66.25 L181.46,66.00 L181.87,65.74 L182.27,65.48 L182.67,65.22 L183.08,64.96 L183.48,64.69 L183.88,64.42 L184.29,64.15 L184.69,63.87 L185.09,63.60 L185.50,63.32 L185.90,63.04 L186.30,62.75 L186.71,62.47 L187.11,62.18 L187.51,61.90 L187.92,61.61 L188.32,61.32 L188.72,61.03 L189.13,60.74 L189.53,60.46 L189.93,60.17 L190.34,59.88 L190.74,59.59 L191.14,59.30 L191.55,59.02 L191.95,58.73 L192.35,58.45 L192.76,58.17 L193.16,57.89 L193.56,57.61 L193.97,57.33 L194.37,57.06 L194.77,56.78 L195.18,56.52 L195.58,56.25 L195.98,55.99 L196.39,55.73 L196.79,55.47 L197.19,55.21 L197.60,54.96 L198.00,54.70 L198.00,65.70 L197.60,65.96 L197.19,66.21 L196.79,66.47 L196.39,66.73 L195.98,66.99 L195.58,67.25 L195.18,67.52 L194.77,67.78 L194.37,68.06 L193.97,68.33 L193.56,68.61 L193.16,68.89 L192.76,69.17 L192.35,69.45 L191.95,69.73 L191.55,70.02 L191.14,70.30 L190.74,70.59 L190.34,70.88 L189.93,71.17 L189.53,71.46 L189.13,71.74 L188.72,72.03 L188.32,72.32 L187.92,72.61 L187.51,72.90 L187.11,73.18 L186.71,73.47 L186.30,73.75 L185.90,74.04 L185.50,74.32 L185.09,74.60 L184.69,74.87 L184.29,75.15 L183.88,75.42 L183.48,75.69 L183.08,75.96 L182.67,76.22 L182.27,76.48 L181.87,76.74 L181.46,77.00 L181.06,77.25 L180.66,77.51 L180.25,77.76 L179.85,78.01 L179.45,78.26 L179.04,78.51 L178.64,78.75 L178.24,79.00 L177.83,79.24 L177.43,79.48 L177.03,79.72 L176.62,79.97 L176.22,80.21 L175.82,80.44 L175.41,80.68 L175.01,80.92 L174.61,81.16 L174.20,81.40 L173.80,81.63 L173.39,81.87 L172.99,82.11 L172.59,82.34 L172.18,82.58 L171.78,82.82 L171.38,83.05 L170.97,83.29 L170.57,83.53 L170.17,83.76 L169.76,84.00 L169.36,84.24 L168.96,84.48 L168.55,84.72 L168.15,84.95 L167.75,85.19 L167.34,85.43 L166.94,85.66 L166.54,85.90 L166.13,86.14 L165.73,86.37 L165.33,86.61 L164.92,86.84 L164.52,87.08 L164.12,87.31 L163.71,87.55 L163.31,87.78 L162.91,88.01 L162.50,88.25 L162.10,88.48 L161.70,88.72 L161.29,88.95 L160.89,89.18 L160.49,89.42 L160.08,89.65 L159.68,89.88 L159.28,90.12 L158.87,90.35 L158.47,90.58 L158.07,90.82 L157.66,91.05 L157.26,91.28 L156.86,91.52 L156.45,91.75 L156.05,91.98 L155.65,92.22 L155.24,92.45 L154.84,92.69 L154.44,92.92 L154.03,93.15 L153.63,93.39 L153.23,93.62 L152.82,93.86 L152.42,94.09 L152.02,94.33 L151.61,94.56 L151.21,94.80 L150.81,95.03 L150.40,95.27 L150.00,95.50 Z" fill="#c14ca6" fill-opacity="0.16"/>
<path d="M139.00,87.50 L139.50,87.17 L139.99,86.84 L140.49,86.51 L140.98,86.18 L141.48,85.86 L141.97,85.55 L142.47,85.25 L142.97,84.96 L143.46,84.68 L143.96,84.41 L144.45,84.14 L144.95,83.89 L145.45,83.63 L145.94,83.38 L146.44,83.14 L146.93,82.90 L147.43,82.67 L147.92,82.43 L148.42,82.20 L148.92,81.97 L149.41,81.75 L149.91,81.52 L150.40,81.29 L150.90,81.06 L151.39,80.83 L151.89,80.60 L152.39,80.36 L152.88,80.13 L153.38,79.88 L153.87,79.64 L154.37,79.39 L154.87,79.13 L155.36,78.87 L155.86,78.59 L156.35,78.32 L156.85,78.03 L157.34,77.73 L157.84,77.43 L158.34,77.12 L158.83,76.79 L159.33,76.46 L159.82,76.13 L160.32,75.78 L160.82,75.43 L161.31,75.08 L161.81,74.72 L162.30,74.36 L162.80,73.99 L163.29,73.62 L163.79,73.25 L164.29,72.88 L164.78,72.51 L165.28,72.14 L165.77,71.77 L166.27,71.40 L166.76,71.03 L167.26,70.66 L167.76,70.30 L168.25,69.95 L168.75,69.59 L169.24,69.25 L169.74,68.90 L170.24,68.56 L170.73,68.22 L171.23,67.88 L171.72,67.55 L172.22,67.21 L172.71,66.87 L173.21,66.53 L173.71,66.19 L174.20,65.85 L174.70,65.52 L175.19,65.18 L175.69,64.85 L176.18,64.52 L176.68,64.19 L177.18,63.86 L177.67,63.53 L178.17,63.20 L178.66,62.88 L179.16,62.56 L179.66,62.23 L180.15,61.92 L180.65,61.60 L181.14,61.29 L181.64,60.97 L182.13,60.66 L182.63,60.36 L183.13,60.05 L183.62,59.75 L184.12,59.45 L184.61,59.16 L185.11,58.86 L185.61,58.57 L186.10,58.28 L186.60,57.99 L187.09,57.71 L187.59,57.42 L188.08,57.14 L188.58,56.85 L189.08,56.57 L189.57,56.29 L190.07,56.01 L190.56,55.73 L191.06,55.45 L191.55,55.17 L192.05,54.89 L192.55,54.61 L193.04,54.33 L193.54,54.05 L194.03,53.77 L194.53,53.48 L195.03,53.20 L195.52,52.92 L196.02,52.63 L196.51,52.35 L197.01,52.07 L197.50,51.78 L198.00,51.50 L198.00,63.00 L197.50,63.28 L197.01,63.57 L196.51,63.85 L196.02,64.13 L195.52,64.42 L195.03,64.70 L194.53,64.98 L194.03,65.27 L193.54,65.55 L193.04,65.83 L192.55,66.11 L192.05,66.39 L191.55,66.67 L191.06,66.95 L190.56,67.23 L190.07,67.51 L189.57,67.79 L189.08,68.07 L188.58,68.35 L188.08,68.64 L187.59,68.92 L187.09,69.21 L186.60,69.49 L186.10,69.78 L185.61,70.07 L185.11,70.36 L184.61,70.66 L184.12,70.95 L183.62,71.25 L183.13,71.55 L182.63,71.86 L182.13,72.16 L181.64,72.47 L181.14,72.79 L180.65,73.10 L180.15,73.42 L179.66,73.73 L179.16,74.06 L178.66,74.38 L178.17,74.70 L177.67,75.03 L177.18,75.36 L176.68,75.69 L176.18,76.02 L175.69,76.35 L175.19,76.68 L174.70,77.02 L174.20,77.35 L173.71,77.69 L173.21,78.03 L172.71,78.37 L172.22,78.71 L171.72,79.05 L171.23,79.38 L170.73,79.72 L170.24,80.06 L169.74,80.40 L169.24,80.75 L168.75,81.09 L168.25,81.45 L167.76,81.80 L167.26,82.16 L166.76,82.53 L166.27,82.90 L165.77,83.27 L165.28,83.64 L164.78,84.01 L164.29,84.38 L163.79,84.75 L163.29,85.12 L162.80,85.49 L162.30,85.86 L161.81,86.22 L161.31,86.58 L160.82,86.93 L160.32,87.28 L159.82,87.63 L159.33,87.96 L158.83,88.29 L158.34,88.62 L157.84,88.93 L157.34,89.23 L156.85,89.53 L156.35,89.82 L155.86,90.09 L155.36,90.37 L154.87,90.63 L154.37,90.89 L153.87,91.14 L153.38,91.38 L152.88,91.63 L152.39,91.86 L151.89,92.10 L151.39,92.33 L150.90,92.56 L150.40,92.79 L149.91,93.02 L149.41,93.25 L148.92,93.47 L148.42,93.70 L147.92,93.93 L147.43,94.17 L146.93,94.40 L146.44,94.64 L145.94,94.88 L145.45,95.13 L144.95,95.39 L144.45,95.64 L143.96,95.91 L143.46,96.18 L142.97,96.46 L142.47,96.75 L141.97,97.05 L141.48,97.36 L140.98,97.68 L140.49,98.01 L139.99,98.34 L139.50,98.67 L139.00,99.00 Z" fill="#3a52a6" fill-opacity="0.10"/>
<path d="M139.00,90.00 L139.50,89.67 L139.99,89.34 L140.49,89.01 L140.98,88.68 L141.48,88.36 L141.97,88.05 L142.47,87.75 L142.97,87.46 L143.46,87.18 L143.96,86.91 L144.45,86.64 L144.95,86.39 L145.45,86.13 L145.94,85.88 L146.44,85.64 L146.93,85.40 L147.43,85.17 L147.92,84.93 L148.42,84.70 L148.92,84.47 L149.41,84.25 L149.91,84.02 L150.40,83.79 L150.90,83.56 L151.39,83.33 L151.89,83.10 L152.39,82.86 L152.88,82.63 L153.38,82.38 L153.87,82.14 L154.37,81.89 L154.87,81.63 L155.36,81.37 L155.86,81.09 L156.35,80.82 L156.85,80.53 L157.34,80.23 L157.84,79.93 L158.34,79.62 L158.83,79.29 L159.33,78.96 L159.82,78.63 L160.32,78.28 L160.82,77.93 L161.31,77.58 L161.81,77.22 L162.30,76.86 L162.80,76.49 L163.29,76.12 L163.79,75.75 L164.29,75.38 L164.78,75.01 L165.28,74.64 L165.77,74.27 L166.27,73.90 L166.76,73.53 L167.26,73.16 L167.76,72.80 L168.25,72.45 L168.75,72.09 L169.24,71.75 L169.74,71.40 L170.24,71.06 L170.73,70.72 L171.23,70.38 L171.72,70.05 L172.22,69.71 L172.71,69.37 L173.21,69.03 L173.71,68.69 L174.20,68.35 L174.70,68.02 L175.19,67.68 L175.69,67.35 L176.18,67.02 L176.68,66.69 L177.18,66.36 L177.67,66.03 L178.17,65.70 L178.66,65.38 L179.16,65.06 L179.66,64.73 L180.15,64.42 L180.65,64.10 L181.14,63.79 L181.64,63.47 L182.13,63.16 L182.63,62.86 L183.13,62.55 L183.62,62.25 L184.12,61.95 L184.61,61.66 L185.11,61.36 L185.61,61.07 L186.10,60.78 L186.60,60.49 L187.09,60.21 L187.59,59.92 L188.08,59.64 L188.58,59.35 L189.08,59.07 L189.57,58.79 L190.07,58.51 L190.56,58.23 L191.06,57.95 L191.55,57.67 L192.05,57.39 L192.55,57.11 L193.04,56.83 L193.54,56.55 L194.03,56.27 L194.53,55.98 L195.03,55.70 L195.52,55.42 L196.02,55.13 L196.51,54.85 L197.01,54.57 L197.50,54.28 L198.00,54.00" fill="none" stroke="#3a52a6" stroke-opacity="0.55" stroke-width="1.3"/>
<path d="M150.00,90.00 L150.40,89.77 L150.81,89.53 L151.21,89.30 L151.61,89.06 L152.02,88.83 L152.42,88.59 L152.82,88.36 L153.23,88.12 L153.63,87.89 L154.03,87.65 L154.44,87.42 L154.84,87.19 L155.24,86.95 L155.65,86.72 L156.05,86.48 L156.45,86.25 L156.86,86.02 L157.26,85.78 L157.66,85.55 L158.07,85.32 L158.47,85.08 L158.87,84.85 L159.28,84.62 L159.68,84.38 L160.08,84.15 L160.49,83.92 L160.89,83.68 L161.29,83.45 L161.70,83.22 L162.10,82.98 L162.50,82.75 L162.91,82.51 L163.31,82.28 L163.71,82.05 L164.12,81.81 L164.52,81.58 L164.92,81.34 L165.33,81.11 L165.73,80.87 L166.13,80.64 L166.54,80.40 L166.94,80.16 L167.34,79.93 L167.75,79.69 L168.15,79.45 L168.55,79.22 L168.96,78.98 L169.36,78.74 L169.76,78.50 L170.17,78.26 L170.57,78.03 L170.97,77.79 L171.38,77.55 L171.78,77.32 L172.18,77.08 L172.59,76.84 L172.99,76.61 L173.39,76.37 L173.80,76.13 L174.20,75.90 L174.61,75.66 L175.01,75.42 L175.41,75.18 L175.82,74.94 L176.22,74.71 L176.62,74.47 L177.03,74.22 L177.43,73.98 L177.83,73.74 L178.24,73.50 L178.64,73.25 L179.04,73.01 L179.45,72.76 L179.85,72.51 L180.25,72.26 L180.66,72.01 L181.06,71.75 L181.46,71.50 L181.87,71.24 L182.27,70.98 L182.67,70.72 L183.08,70.46 L183.48,70.19 L183.88,69.92 L184.29,69.65 L184.69,69.37 L185.09,69.10 L185.50,68.82 L185.90,68.54 L186.30,68.25 L186.71,67.97 L187.11,67.68 L187.51,67.40 L187.92,67.11 L188.32,66.82 L188.72,66.53 L189.13,66.24 L189.53,65.96 L189.93,65.67 L190.34,65.38 L190.74,65.09 L191.14,64.80 L191.55,64.52 L191.95,64.23 L192.35,63.95 L192.76,63.67 L193.16,63.39 L193.56,63.11 L193.97,62.83 L194.37,62.56 L194.77,62.28 L195.18,62.02 L195.58,61.75 L195.98,61.49 L196.39,61.23 L196.79,60.97 L197.19,60.71 L197.60,60.46 L198.00,60.20" fill="none" stroke="#c14ca6" stroke-width="1.7"/>
<path d="M143.00,90.50 L143.46,90.03 L143.92,89.56 L144.39,89.10 L144.85,88.64 L145.31,88.18 L145.77,87.72 L146.24,87.27 L146.70,86.82 L147.16,86.37 L147.62,85.92 L148.08,85.47 L148.55,85.02 L149.01,84.57 L149.47,84.12 L149.93,83.67 L150.39,83.23 L150.86,82.78 L151.32,82.34 L151.78,81.90 L152.24,81.47 L152.71,81.03 L153.17,80.60 L153.63,80.18 L154.09,79.76 L154.55,79.34 L155.02,78.93 L155.48,78.52 L155.94,78.12 L156.40,77.72 L156.87,77.33 L157.33,76.94 L157.79,76.56 L158.25,76.19 L158.71,75.82 L159.18,75.45 L159.64,75.09 L160.10,74.73 L160.56,74.37 L161.03,74.02 L161.49,73.67 L161.95,73.32 L162.41,72.98 L162.87,72.64 L163.34,72.29 L163.80,71.95 L164.26,71.62 L164.72,71.28 L165.18,70.94 L165.65,70.61 L166.11,70.27 L166.57,69.93 L167.03,69.59 L167.50,69.26 L167.96,68.92 L168.42,68.58 L168.88,68.23 L169.34,67.89 L169.81,67.55 L170.27,67.20 L170.73,66.85 L171.19,66.51 L171.66,66.16 L172.12,65.81 L172.58,65.47 L173.04,65.12 L173.50,64.77 L173.97,64.43 L174.43,64.08 L174.89,63.74 L175.35,63.39 L175.82,63.04 L176.28,62.70 L176.74,62.36 L177.20,62.01 L177.66,61.67 L178.13,61.33 L178.59,60.99 L179.05,60.64 L179.51,60.30 L179.97,59.97 L180.44,59.63 L180.90,59.29 L181.36,58.95 L181.82,58.62 L182.29,58.28 L182.75,57.95 L183.21,57.61 L183.67,57.28 L184.13,56.94 L184.60,56.60 L185.06,56.26 L185.52,55.92 L185.98,55.58 L186.45,55.24 L186.91,54.91 L187.37,54.57 L187.83,54.23 L188.29,53.90 L188.76,53.56 L189.22,53.23 L189.68,52.90 L190.14,52.57 L190.61,52.25 L191.07,51.93 L191.53,51.61 L191.99,51.29 L192.45,50.98 L192.92,50.67 L193.38,50.36 L193.84,50.06 L194.30,49.76 L194.76,49.47 L195.23,49.18 L195.69,48.90 L196.15,48.63 L196.61,48.37 L197.08,48.11 L197.54,47.85 L198.00,47.60" fill="none" stroke="#000" stroke-width="1.5"/>
</g>
<rect x="97.3" y="13.2" width="98.2" height="74.5" fill="none" stroke="#222" stroke-width="1.5"/>
<text x="0" y="0" font-size="10" font-weight="bold" text-anchor="middle" transform="translate(91.20 48.20) rotate(-90)" >Current Density</text>
<text x="88.50" y="100.00" font-size="12" font-weight="bold" text-anchor="start" >0.2</text>
<text x="187.50" y="100.00" font-size="12" font-weight="bold" text-anchor="start" >0.4</text>
<text x="146.30" y="110.60" font-size="12" font-weight="bold" text-anchor="middle" >Potential</text>
<rect x="80.3" y="9.4" width="246.7" height="195.1" fill="none" stroke="#000" stroke-width="1.4"/>
<line x1="76.70" y1="204.50" x2="80.30" y2="204.50" stroke="#000" stroke-width="1.2" />
<line x1="78.30" y1="188.25" x2="80.30" y2="188.25" stroke="#000" stroke-width="1.2" />
<line x1="76.70" y1="172.00" x2="80.30" y2="172.00" stroke="#000" stroke-width="1.2" />
<line x1="78.30" y1="155.75" x2="80.30" y2="155.75" stroke="#000" stroke-width="1.2" />
<line x1="76.70" y1="139.50" x2="80.30" y2="139.50" stroke="#000" stroke-width="1.2" />
<line x1="78.30" y1="123.25" x2="80.30" y2="123.25" stroke="#000" stroke-width="1.2" />
<line x1="76.70" y1="107.00" x2="80.30" y2="107.00" stroke="#000" stroke-width="1.2" />
<line x1="78.30" y1="90.75" x2="80.30" y2="90.75" stroke="#000" stroke-width="1.2" />
<line x1="76.70" y1="74.50" x2="80.30" y2="74.50" stroke="#000" stroke-width="1.2" />
<line x1="78.30" y1="58.25" x2="80.30" y2="58.25" stroke="#000" stroke-width="1.2" />
<line x1="76.70" y1="42.00" x2="80.30" y2="42.00" stroke="#000" stroke-width="1.2" />
<line x1="78.30" y1="25.75" x2="80.30" y2="25.75" stroke="#000" stroke-width="1.2" />
<line x1="76.70" y1="9.50" x2="80.30" y2="9.50" stroke="#000" stroke-width="1.2" />
<line x1="80.30" y1="204.50" x2="80.30" y2="208.10" stroke="#000" stroke-width="1.2" />
<line x1="102.75" y1="204.50" x2="102.75" y2="206.50" stroke="#000" stroke-width="1.2" />
<line x1="125.20" y1="204.50" x2="125.20" y2="208.10" stroke="#000" stroke-width="1.2" />
<line x1="147.65" y1="204.50" x2="147.65" y2="206.50" stroke="#000" stroke-width="1.2" />
<line x1="170.10" y1="204.50" x2="170.10" y2="208.10" stroke="#000" stroke-width="1.2" />
<line x1="192.55" y1="204.50" x2="192.55" y2="206.50" stroke="#000" stroke-width="1.2" />
<line x1="215.00" y1="204.50" x2="215.00" y2="208.10" stroke="#000" stroke-width="1.2" />
<line x1="237.45" y1="204.50" x2="237.45" y2="206.50" stroke="#000" stroke-width="1.2" />
<line x1="259.90" y1="204.50" x2="259.90" y2="208.10" stroke="#000" stroke-width="1.2" />
<line x1="282.35" y1="204.50" x2="282.35" y2="206.50" stroke="#000" stroke-width="1.2" />
<line x1="304.80" y1="204.50" x2="304.80" y2="208.10" stroke="#000" stroke-width="1.2" />
<line x1="327.25" y1="204.50" x2="327.25" y2="206.50" stroke="#000" stroke-width="1.2" />
<text x="74.30" y="209.40" font-size="14" font-weight="bold" text-anchor="end" >0.0</text>
<text x="74.30" y="176.90" font-size="14" font-weight="bold" text-anchor="end" >0.1</text>
<text x="74.30" y="144.40" font-size="14" font-weight="bold" text-anchor="end" >0.2</text>
<text x="74.30" y="111.90" font-size="14" font-weight="bold" text-anchor="end" >0.3</text>
<text x="74.30" y="79.40" font-size="14" font-weight="bold" text-anchor="end" >0.4</text>
<text x="74.30" y="46.90" font-size="14" font-weight="bold" text-anchor="end" >0.5</text>
<text x="74.30" y="14.40" font-size="14" font-weight="bold" text-anchor="end" >0.6</text>
<text x="125.20" y="221.50" font-size="14" font-weight="bold" text-anchor="middle" >0.4</text>
<text x="170.10" y="221.50" font-size="14" font-weight="bold" text-anchor="middle" >0.6</text>
<text x="215.00" y="221.50" font-size="14" font-weight="bold" text-anchor="middle" >0.8</text>
<text x="259.90" y="221.50" font-size="14" font-weight="bold" text-anchor="middle" >1.0</text>
<text x="304.80" y="221.50" font-size="14" font-weight="bold" text-anchor="middle" >1.2</text>
<text x="59.00" y="223.00" font-size="14" font-weight="bold" text-anchor="middle" >0.2</text>
<text x="199.10" y="238.40" font-size="15.6" font-weight="bold" text-anchor="middle" >Potential (V vs. RHE)</text>
<text x="0" y="0" font-size="15.6" font-weight="bold" text-anchor="middle" transform="translate(47.60 108.20) rotate(-90)" >Current Density (mA·cm<tspan dy="-7.5" font-size="10">-2</tspan><tspan dy="7.5">)</tspan></text>
<text x="0.00" y="17.60" font-size="17" font-weight="bold" text-anchor="start" >a</text>
<line x1="252.00" y1="18.40" x2="282.70" y2="18.40" stroke="#000" stroke-width="1.6" />
<text x="286.30" y="23.40" font-size="14" font-weight="bold" text-anchor="start" >L</text>
<line x1="252.00" y1="35.60" x2="282.70" y2="35.60" stroke="#3a52a6" stroke-width="1.6" />
<text x="286.30" y="40.60" font-size="14" font-weight="bold" text-anchor="start" >D</text>
<line x1="252.00" y1="52.50" x2="282.70" y2="52.50" stroke="#c14ca6" stroke-width="1.6" />
<text x="286.30" y="57.50" font-size="14" font-weight="bold" text-anchor="start" >DL</text>
<rect x="417.4" y="8.8" width="254.60000000000002" height="195.79999999999998" fill="none" stroke="#000" stroke-width="1.4"/>
<line x1="413.40" y1="204.60" x2="417.40" y2="204.60" stroke="#000" stroke-width="1.2" />
<line x1="417.40" y1="204.60" x2="417.40" y2="208.60" stroke="#000" stroke-width="1.2" />
<line x1="415.20" y1="185.02" x2="417.40" y2="185.02" stroke="#000" stroke-width="1.2" />
<line x1="442.86" y1="204.60" x2="442.86" y2="206.80" stroke="#000" stroke-width="1.2" />
<line x1="413.40" y1="165.44" x2="417.40" y2="165.44" stroke="#000" stroke-width="1.2" />
<line x1="468.32" y1="204.60" x2="468.32" y2="208.60" stroke="#000" stroke-width="1.2" />
<line x1="415.20" y1="145.86" x2="417.40" y2="145.86" stroke="#000" stroke-width="1.2" />
<line x1="493.78" y1="204.60" x2="493.78" y2="206.80" stroke="#000" stroke-width="1.2" />
<line x1="413.40" y1="126.28" x2="417.40" y2="126.28" stroke="#000" stroke-width="1.2" />
<line x1="519.24" y1="204.60" x2="519.24" y2="208.60" stroke="#000" stroke-width="1.2" />
<line x1="415.20" y1="106.70" x2="417.40" y2="106.70" stroke="#000" stroke-width="1.2" />
<line x1="544.70" y1="204.60" x2="544.70" y2="206.80" stroke="#000" stroke-width="1.2" />
<line x1="413.40" y1="87.12" x2="417.40" y2="87.12" stroke="#000" stroke-width="1.2" />
<line x1="570.16" y1="204.60" x2="570.16" y2="208.60" stroke="#000" stroke-width="1.2" />
<line x1="415.20" y1="67.54" x2="417.40" y2="67.54" stroke="#000" stroke-width="1.2" />
<line x1="595.62" y1="204.60" x2="595.62" y2="206.80" stroke="#000" stroke-width="1.2" />
<line x1="413.40" y1="47.96" x2="417.40" y2="47.96" stroke="#000" stroke-width="1.2" />
<line x1="621.08" y1="204.60" x2="621.08" y2="208.60" stroke="#000" stroke-width="1.2" />
<line x1="415.20" y1="28.38" x2="417.40" y2="28.38" stroke="#000" stroke-width="1.2" />
<line x1="646.54" y1="204.60" x2="646.54" y2="206.80" stroke="#000" stroke-width="1.2" />
<line x1="413.40" y1="8.80" x2="417.40" y2="8.80" stroke="#000" stroke-width="1.2" />
<line x1="672.00" y1="204.60" x2="672.00" y2="208.60" stroke="#000" stroke-width="1.2" />
<text x="411.30" y="209.80" font-size="16" font-weight="bold" text-anchor="end" >0</text>
<text x="417.40" y="223.90" font-size="16" font-weight="bold" text-anchor="middle" >340</text>
<text x="411.30" y="170.64" font-size="16" font-weight="bold" text-anchor="end" >20</text>
<text x="468.32" y="223.90" font-size="16" font-weight="bold" text-anchor="middle" >360</text>
<text x="411.30" y="131.48" font-size="16" font-weight="bold" text-anchor="end" >40</text>
<text x="519.24" y="223.90" font-size="16" font-weight="bold" text-anchor="middle" >380</text>
<text x="411.30" y="92.32" font-size="16" font-weight="bold" text-anchor="end" >60</text>
<text x="570.16" y="223.90" font-size="16" font-weight="bold" text-anchor="middle" >400</text>
<text x="411.30" y="53.16" font-size="16" font-weight="bold" text-anchor="end" >80</text>
<text x="621.08" y="223.90" font-size="16" font-weight="bold" text-anchor="middle" >420</text>
<text x="411.30" y="14.00" font-size="16" font-weight="bold" text-anchor="end" >100</text>
<text x="672.00" y="223.90" font-size="16" font-weight="bold" text-anchor="middle" >440</text>
<text x="549.20" y="241.80" font-size="16" font-weight="bold" text-anchor="middle" >Wavelength (nm)</text>
<text x="0" y="0" font-size="16" font-weight="bold" text-anchor="middle" transform="translate(384.20 111.00) rotate(-90)" >IPCE (%)</text>
<text x="362.30" y="17.80" font-size="17" font-weight="bold" text-anchor="start" >b</text>
<path d="M417.40,28.77 L442.86,81.83 L468.32,106.70 L493.78,137.24 L519.24,172.88 L544.70,192.46 L570.16,196.38 L595.62,198.14 L621.08,198.33 L646.54,198.53 L672.00,199.31" fill="none" stroke="#000" stroke-width="2.3"/>
<path d="M417.40,42.48 L442.86,106.70 L468.32,130.39 L493.78,154.08 L519.24,178.95 L544.70,193.24 L570.16,196.77 L595.62,198.33 L621.08,198.53 L646.54,198.73 L672.00,198.73" fill="none" stroke="#3a52a6" stroke-width="2.3"/>
<path d="M417.40,76.55 L442.86,137.24 L468.32,157.02 L493.78,174.25 L519.24,187.76 L544.70,194.81 L570.16,196.77 L595.62,198.33 L621.08,198.53 L646.54,198.73 L672.00,198.92" fill="none" stroke="#c14ca6" stroke-width="2.3"/>
<line x1="417.40" y1="22.90" x2="417.40" y2="34.65" stroke="#000" stroke-width="1.4" />
<line x1="414.50" y1="22.90" x2="420.30" y2="22.90" stroke="#000" stroke-width="1.4" />
<line x1="414.50" y1="34.65" x2="420.30" y2="34.65" stroke="#000" stroke-width="1.4" />
<rect x="414.20" y="25.57" width="6.40" height="6.40" fill="#000"/>
<line x1="442.86" y1="76.94" x2="442.86" y2="86.73" stroke="#000" stroke-width="1.4" />
<line x1="439.96" y1="76.94" x2="445.76" y2="76.94" stroke="#000" stroke-width="1.4" />
<line x1="439.96" y1="86.73" x2="445.76" y2="86.73" stroke="#000" stroke-width="1.4" />
<rect x="439.66" y="78.63" width="6.40" height="6.40" fill="#000"/>
<line x1="468.32" y1="100.04" x2="468.32" y2="113.36" stroke="#000" stroke-width="1.4" />
<line x1="465.42" y1="100.04" x2="471.22" y2="100.04" stroke="#000" stroke-width="1.4" />
<line x1="465.42" y1="113.36" x2="471.22" y2="113.36" stroke="#000" stroke-width="1.4" />
<rect x="465.12" y="103.50" width="6.40" height="6.40" fill="#000"/>
<line x1="493.78" y1="132.94" x2="493.78" y2="141.55" stroke="#000" stroke-width="1.4" />
<line x1="490.88" y1="132.94" x2="496.68" y2="132.94" stroke="#000" stroke-width="1.4" />
<line x1="490.88" y1="141.55" x2="496.68" y2="141.55" stroke="#000" stroke-width="1.4" />
<rect x="490.58" y="134.04" width="6.40" height="6.40" fill="#000"/>
<line x1="519.24" y1="169.94" x2="519.24" y2="175.82" stroke="#000" stroke-width="1.4" />
<line x1="516.34" y1="169.94" x2="522.14" y2="169.94" stroke="#000" stroke-width="1.4" />
<line x1="516.34" y1="175.82" x2="522.14" y2="175.82" stroke="#000" stroke-width="1.4" />
<rect x="516.04" y="169.68" width="6.40" height="6.40" fill="#000"/>
<line x1="544.70" y1="190.11" x2="544.70" y2="194.81" stroke="#000" stroke-width="1.4" />
<line x1="541.80" y1="190.11" x2="547.60" y2="190.11" stroke="#000" stroke-width="1.4" />
<line x1="541.80" y1="194.81" x2="547.60" y2="194.81" stroke="#000" stroke-width="1.4" />
<rect x="541.50" y="189.26" width="6.40" height="6.40" fill="#000"/>
<line x1="570.16" y1="194.03" x2="570.16" y2="198.73" stroke="#000" stroke-width="1.4" />
<line x1="567.26" y1="194.03" x2="573.06" y2="194.03" stroke="#000" stroke-width="1.4" />
<line x1="567.26" y1="198.73" x2="573.06" y2="198.73" stroke="#000" stroke-width="1.4" />
<rect x="566.96" y="193.18" width="6.40" height="6.40" fill="#000"/>
<line x1="595.62" y1="195.20" x2="595.62" y2="201.08" stroke="#000" stroke-width="1.4" />
<line x1="592.72" y1="195.20" x2="598.52" y2="195.20" stroke="#000" stroke-width="1.4" />
<line x1="592.72" y1="201.08" x2="598.52" y2="201.08" stroke="#000" stroke-width="1.4" />
<rect x="592.42" y="194.94" width="6.40" height="6.40" fill="#000"/>
<line x1="621.08" y1="195.98" x2="621.08" y2="200.68" stroke="#000" stroke-width="1.4" />
<line x1="618.18" y1="195.98" x2="623.98" y2="195.98" stroke="#000" stroke-width="1.4" />
<line x1="618.18" y1="200.68" x2="623.98" y2="200.68" stroke="#000" stroke-width="1.4" />
<rect x="617.88" y="195.13" width="6.40" height="6.40" fill="#000"/>
<line x1="646.54" y1="196.18" x2="646.54" y2="200.88" stroke="#000" stroke-width="1.4" />
<line x1="643.64" y1="196.18" x2="649.44" y2="196.18" stroke="#000" stroke-width="1.4" />
<line x1="643.64" y1="200.88" x2="649.44" y2="200.88" stroke="#000" stroke-width="1.4" />
<rect x="643.34" y="195.33" width="6.40" height="6.40" fill="#000"/>
<line x1="672.00" y1="191.48" x2="672.00" y2="207.15" stroke="#000" stroke-width="1.4" />
<line x1="669.10" y1="191.48" x2="674.90" y2="191.48" stroke="#000" stroke-width="1.4" />
<line x1="669.10" y1="207.15" x2="674.90" y2="207.15" stroke="#000" stroke-width="1.4" />
<rect x="668.80" y="196.11" width="6.40" height="6.40" fill="#000"/>
<line x1="417.40" y1="35.62" x2="417.40" y2="49.33" stroke="#3a52a6" stroke-width="1.4" />
<line x1="414.50" y1="35.62" x2="420.30" y2="35.62" stroke="#3a52a6" stroke-width="1.4" />
<line x1="414.50" y1="49.33" x2="420.30" y2="49.33" stroke="#3a52a6" stroke-width="1.4" />
<circle cx="417.40" cy="42.48" r="3.70" fill="#3a52a6"/>
<line x1="442.86" y1="100.83" x2="442.86" y2="112.57" stroke="#3a52a6" stroke-width="1.4" />
<line x1="439.96" y1="100.83" x2="445.76" y2="100.83" stroke="#3a52a6" stroke-width="1.4" />
<line x1="439.96" y1="112.57" x2="445.76" y2="112.57" stroke="#3a52a6" stroke-width="1.4" />
<circle cx="442.86" cy="106.70" r="3.70" fill="#3a52a6"/>
<line x1="468.32" y1="123.54" x2="468.32" y2="137.24" stroke="#3a52a6" stroke-width="1.4" />
<line x1="465.42" y1="123.54" x2="471.22" y2="123.54" stroke="#3a52a6" stroke-width="1.4" />
<line x1="465.42" y1="137.24" x2="471.22" y2="137.24" stroke="#3a52a6" stroke-width="1.4" />
<circle cx="468.32" cy="130.39" r="3.70" fill="#3a52a6"/>
<line x1="493.78" y1="151.73" x2="493.78" y2="156.43" stroke="#3a52a6" stroke-width="1.4" />
<line x1="490.88" y1="151.73" x2="496.68" y2="151.73" stroke="#3a52a6" stroke-width="1.4" />
<line x1="490.88" y1="156.43" x2="496.68" y2="156.43" stroke="#3a52a6" stroke-width="1.4" />
<circle cx="493.78" cy="154.08" r="3.70" fill="#3a52a6"/>
<line x1="519.24" y1="176.99" x2="519.24" y2="180.91" stroke="#3a52a6" stroke-width="1.4" />
<line x1="516.34" y1="176.99" x2="522.14" y2="176.99" stroke="#3a52a6" stroke-width="1.4" />
<line x1="516.34" y1="180.91" x2="522.14" y2="180.91" stroke="#3a52a6" stroke-width="1.4" />
<circle cx="519.24" cy="178.95" r="3.70" fill="#3a52a6"/>
<line x1="544.70" y1="191.29" x2="544.70" y2="195.20" stroke="#3a52a6" stroke-width="1.4" />
<line x1="541.80" y1="191.29" x2="547.60" y2="191.29" stroke="#3a52a6" stroke-width="1.4" />
<line x1="541.80" y1="195.20" x2="547.60" y2="195.20" stroke="#3a52a6" stroke-width="1.4" />
<circle cx="544.70" cy="193.24" r="3.70" fill="#3a52a6"/>
<line x1="570.16" y1="194.81" x2="570.16" y2="198.73" stroke="#3a52a6" stroke-width="1.4" />
<line x1="567.26" y1="194.81" x2="573.06" y2="194.81" stroke="#3a52a6" stroke-width="1.4" />
<line x1="567.26" y1="198.73" x2="573.06" y2="198.73" stroke="#3a52a6" stroke-width="1.4" />
<circle cx="570.16" cy="196.77" r="3.70" fill="#3a52a6"/>
<line x1="595.62" y1="194.42" x2="595.62" y2="202.25" stroke="#3a52a6" stroke-width="1.4" />
<line x1="592.72" y1="194.42" x2="598.52" y2="194.42" stroke="#3a52a6" stroke-width="1.4" />
<line x1="592.72" y1="202.25" x2="598.52" y2="202.25" stroke="#3a52a6" stroke-width="1.4" />
<circle cx="595.62" cy="198.33" r="3.70" fill="#3a52a6"/>
<line x1="621.08" y1="194.61" x2="621.08" y2="202.45" stroke="#3a52a6" stroke-width="1.4" />
<line x1="618.18" y1="194.61" x2="623.98" y2="194.61" stroke="#3a52a6" stroke-width="1.4" />
<line x1="618.18" y1="202.45" x2="623.98" y2="202.45" stroke="#3a52a6" stroke-width="1.4" />
<circle cx="621.08" cy="198.53" r="3.70" fill="#3a52a6"/>
<line x1="646.54" y1="195.79" x2="646.54" y2="201.66" stroke="#3a52a6" stroke-width="1.4" />
<line x1="643.64" y1="195.79" x2="649.44" y2="195.79" stroke="#3a52a6" stroke-width="1.4" />
<line x1="643.64" y1="201.66" x2="649.44" y2="201.66" stroke="#3a52a6" stroke-width="1.4" />
<circle cx="646.54" cy="198.73" r="3.70" fill="#3a52a6"/>
<line x1="672.00" y1="194.81" x2="672.00" y2="202.64" stroke="#3a52a6" stroke-width="1.4" />
<line x1="669.10" y1="194.81" x2="674.90" y2="194.81" stroke="#3a52a6" stroke-width="1.4" />
<line x1="669.10" y1="202.64" x2="674.90" y2="202.64" stroke="#3a52a6" stroke-width="1.4" />
<circle cx="672.00" cy="198.73" r="3.70" fill="#3a52a6"/>
<line x1="417.40" y1="70.67" x2="417.40" y2="82.42" stroke="#c14ca6" stroke-width="1.4" />
<line x1="414.50" y1="70.67" x2="420.30" y2="70.67" stroke="#c14ca6" stroke-width="1.4" />
<line x1="414.50" y1="82.42" x2="420.30" y2="82.42" stroke="#c14ca6" stroke-width="1.4" />
<path d="M417.40,72.05 L421.90,79.92 L412.90,79.92 Z" fill="#c14ca6"/>
<line x1="442.86" y1="132.35" x2="442.86" y2="142.14" stroke="#c14ca6" stroke-width="1.4" />
<line x1="439.96" y1="132.35" x2="445.76" y2="132.35" stroke="#c14ca6" stroke-width="1.4" />
<line x1="439.96" y1="142.14" x2="445.76" y2="142.14" stroke="#c14ca6" stroke-width="1.4" />
<path d="M442.86,132.74 L447.36,140.62 L438.36,140.62 Z" fill="#c14ca6"/>
<line x1="468.32" y1="151.15" x2="468.32" y2="162.89" stroke="#c14ca6" stroke-width="1.4" />
<line x1="465.42" y1="151.15" x2="471.22" y2="151.15" stroke="#c14ca6" stroke-width="1.4" />
<line x1="465.42" y1="162.89" x2="471.22" y2="162.89" stroke="#c14ca6" stroke-width="1.4" />
<path d="M468.32,152.52 L472.82,160.40 L463.82,160.40 Z" fill="#c14ca6"/>
<line x1="493.78" y1="171.31" x2="493.78" y2="177.19" stroke="#c14ca6" stroke-width="1.4" />
<line x1="490.88" y1="171.31" x2="496.68" y2="171.31" stroke="#c14ca6" stroke-width="1.4" />
<line x1="490.88" y1="177.19" x2="496.68" y2="177.19" stroke="#c14ca6" stroke-width="1.4" />
<path d="M493.78,169.75 L498.28,177.63 L489.28,177.63 Z" fill="#c14ca6"/>
<line x1="519.24" y1="184.82" x2="519.24" y2="190.70" stroke="#c14ca6" stroke-width="1.4" />
<line x1="516.34" y1="184.82" x2="522.14" y2="184.82" stroke="#c14ca6" stroke-width="1.4" />
<line x1="516.34" y1="190.70" x2="522.14" y2="190.70" stroke="#c14ca6" stroke-width="1.4" />
<path d="M519.24,183.26 L523.74,191.14 L514.74,191.14 Z" fill="#c14ca6"/>
<line x1="544.70" y1="191.87" x2="544.70" y2="197.75" stroke="#c14ca6" stroke-width="1.4" />
<line x1="541.80" y1="191.87" x2="547.60" y2="191.87" stroke="#c14ca6" stroke-width="1.4" />
<line x1="541.80" y1="197.75" x2="547.60" y2="197.75" stroke="#c14ca6" stroke-width="1.4" />
<path d="M544.70,190.31 L549.20,198.19 L540.20,198.19 Z" fill="#c14ca6"/>
<line x1="570.16" y1="193.83" x2="570.16" y2="199.70" stroke="#c14ca6" stroke-width="1.4" />
<line x1="567.26" y1="193.83" x2="573.06" y2="193.83" stroke="#c14ca6" stroke-width="1.4" />
<line x1="567.26" y1="199.70" x2="573.06" y2="199.70" stroke="#c14ca6" stroke-width="1.4" />
<path d="M570.16,192.27 L574.66,200.14 L565.66,200.14 Z" fill="#c14ca6"/>
<line x1="595.62" y1="191.48" x2="595.62" y2="205.19" stroke="#c14ca6" stroke-width="1.4" />
<line x1="592.72" y1="191.48" x2="598.52" y2="191.48" stroke="#c14ca6" stroke-width="1.4" />
<line x1="592.72" y1="205.19" x2="598.52" y2="205.19" stroke="#c14ca6" stroke-width="1.4" />
<path d="M595.62,193.83 L600.12,201.71 L591.12,201.71 Z" fill="#c14ca6"/>
<line x1="621.08" y1="192.66" x2="621.08" y2="204.40" stroke="#c14ca6" stroke-width="1.4" />
<line x1="618.18" y1="192.66" x2="623.98" y2="192.66" stroke="#c14ca6" stroke-width="1.4" />
<line x1="618.18" y1="204.40" x2="623.98" y2="204.40" stroke="#c14ca6" stroke-width="1.4" />
<path d="M621.08,194.03 L625.58,201.91 L616.58,201.91 Z" fill="#c14ca6"/>
<line x1="646.54" y1="194.81" x2="646.54" y2="202.64" stroke="#c14ca6" stroke-width="1.4" />
<line x1="643.64" y1="194.81" x2="649.44" y2="194.81" stroke="#c14ca6" stroke-width="1.4" />
<line x1="643.64" y1="202.64" x2="649.44" y2="202.64" stroke="#c14ca6" stroke-width="1.4" />
<path d="M646.54,194.23 L651.04,202.10 L642.04,202.10 Z" fill="#c14ca6"/>
<line x1="672.00" y1="193.05" x2="672.00" y2="204.80" stroke="#c14ca6" stroke-width="1.4" />
<line x1="669.10" y1="193.05" x2="674.90" y2="193.05" stroke="#c14ca6" stroke-width="1.4" />
<line x1="669.10" y1="204.80" x2="674.90" y2="204.80" stroke="#c14ca6" stroke-width="1.4" />
<path d="M672.00,194.42 L676.50,202.30 L667.50,202.30 Z" fill="#c14ca6"/>
<line x1="598.40" y1="24.70" x2="635.60" y2="24.70" stroke="#000" stroke-width="2" />
<rect x="613.80" y="21.50" width="6.40" height="6.40" fill="#000"/>
<text x="639.30" y="31.10" font-size="16" font-weight="bold" text-anchor="start" >L</text>
<line x1="598.40" y1="44.70" x2="635.60" y2="44.70" stroke="#3a52a6" stroke-width="2" />
<circle cx="617.00" cy="44.70" r="3.70" fill="#3a52a6"/>
<text x="639.30" y="51.10" font-size="16" font-weight="bold" text-anchor="start" >D</text>
<line x1="598.40" y1="64.50" x2="635.60" y2="64.50" stroke="#c14ca6" stroke-width="2" />
<path d="M617.00,60.00 L621.50,67.88 L612.50,67.88 Z" fill="#c14ca6"/>
<text x="639.30" y="70.90" font-size="16" font-weight="bold" text-anchor="start" >DL</text>
<defs>
<linearGradient id="gL" x1="0" y1="0" x2="0" y2="1"><stop offset="0" stop-color="#000"/><stop offset="0.042" stop-color="#000"/><stop offset="0.044" stop-color="#0f0f0f"/><stop offset="0.3" stop-color="#1c1c1c"/><stop offset="1" stop-color="#444"/></linearGradient>
<linearGradient id="gD" x1="0" y1="0" x2="0" y2="1"><stop offset="0" stop-color="#3d56aa"/><stop offset="1" stop-color="#1e2e62"/></linearGradient>
<linearGradient id="gP" x1="0" y1="0" x2="0" y2="1"><stop offset="0" stop-color="#b6509e"/><stop offset="0.3" stop-color="#ad4c97"/><stop offset="1" stop-color="#5a1f4e"/></linearGradient>
</defs>
<rect x="87.10" y="290.57" width="29.6" height="175.13" fill="url(#gL)"/>
<line x1="101.90" y1="287.70" x2="101.90" y2="293.44" stroke="#000" stroke-width="1.5" />
<line x1="99.30" y1="287.70" x2="104.50" y2="287.70" stroke="#000" stroke-width="1.5" />
<line x1="99.30" y1="293.44" x2="104.50" y2="293.44" stroke="#000" stroke-width="1.5" />
<rect x="152.50" y="298.27" width="29.6" height="167.43" fill="#077369"/>
<line x1="167.30" y1="295.66" x2="167.30" y2="300.88" stroke="#000" stroke-width="1.5" />
<line x1="164.70" y1="295.66" x2="169.90" y2="295.66" stroke="#000" stroke-width="1.5" />
<line x1="164.70" y1="300.88" x2="169.90" y2="300.88" stroke="#000" stroke-width="1.5" />
<rect x="218.00" y="324.11" width="29.6" height="141.59" fill="url(#gD)"/>
<line x1="232.80" y1="321.89" x2="232.80" y2="326.33" stroke="#000" stroke-width="1.5" />
<line x1="230.20" y1="321.89" x2="235.40" y2="321.89" stroke="#000" stroke-width="1.5" />
<line x1="230.20" y1="326.33" x2="235.40" y2="326.33" stroke="#000" stroke-width="1.5" />
<rect x="283.70" y="358.69" width="29.6" height="107.01" fill="url(#gP)"/>
<line x1="298.50" y1="355.04" x2="298.50" y2="362.34" stroke="#000" stroke-width="1.5" />
<line x1="295.90" y1="355.04" x2="301.10" y2="355.04" stroke="#000" stroke-width="1.5" />
<line x1="295.90" y1="362.34" x2="301.10" y2="362.34" stroke="#000" stroke-width="1.5" />
<rect x="72.8" y="270.2" width="254.5" height="195.5" fill="none" stroke="#000" stroke-width="1.4"/>
<line x1="68.80" y1="465.70" x2="72.80" y2="465.70" stroke="#000" stroke-width="1.2" />
<line x1="70.60" y1="452.65" x2="72.80" y2="452.65" stroke="#000" stroke-width="1.2" />
<line x1="68.80" y1="439.60" x2="72.80" y2="439.60" stroke="#000" stroke-width="1.2" />
<line x1="70.60" y1="426.55" x2="72.80" y2="426.55" stroke="#000" stroke-width="1.2" />
<line x1="68.80" y1="413.50" x2="72.80" y2="413.50" stroke="#000" stroke-width="1.2" />
<line x1="70.60" y1="400.45" x2="72.80" y2="400.45" stroke="#000" stroke-width="1.2" />
<line x1="68.80" y1="387.40" x2="72.80" y2="387.40" stroke="#000" stroke-width="1.2" />
<line x1="70.60" y1="374.35" x2="72.80" y2="374.35" stroke="#000" stroke-width="1.2" />
<line x1="68.80" y1="361.30" x2="72.80" y2="361.30" stroke="#000" stroke-width="1.2" />
<line x1="70.60" y1="348.25" x2="72.80" y2="348.25" stroke="#000" stroke-width="1.2" />
<line x1="68.80" y1="335.20" x2="72.80" y2="335.20" stroke="#000" stroke-width="1.2" />
<line x1="70.60" y1="322.15" x2="72.80" y2="322.15" stroke="#000" stroke-width="1.2" />
<line x1="68.80" y1="309.10" x2="72.80" y2="309.10" stroke="#000" stroke-width="1.2" />
<line x1="70.60" y1="296.05" x2="72.80" y2="296.05" stroke="#000" stroke-width="1.2" />
<line x1="68.80" y1="283.00" x2="72.80" y2="283.00" stroke="#000" stroke-width="1.2" />
<text x="66.80" y="470.70" font-size="14" font-weight="bold" text-anchor="end" >0</text>
<text x="66.80" y="444.60" font-size="14" font-weight="bold" text-anchor="end" >200</text>
<text x="66.80" y="418.50" font-size="14" font-weight="bold" text-anchor="end" >400</text>
<text x="66.80" y="392.40" font-size="14" font-weight="bold" text-anchor="end" >600</text>
<text x="66.80" y="366.30" font-size="14" font-weight="bold" text-anchor="end" >800</text>
<text x="66.80" y="340.20" font-size="14" font-weight="bold" text-anchor="end" >1000</text>
<text x="66.80" y="314.10" font-size="14" font-weight="bold" text-anchor="end" >1200</text>
<text x="66.80" y="288.00" font-size="14" font-weight="bold" text-anchor="end" >1400</text>
<text x="101.90" y="481.80" font-size="16.5" font-weight="bold" text-anchor="middle" >L</text>
<text x="167.30" y="481.80" font-size="16.5" font-weight="bold" text-anchor="middle" >L+D</text>
<text x="232.80" y="481.80" font-size="16.5" font-weight="bold" text-anchor="middle" >D</text>
<text x="298.50" y="481.80" font-size="16.5" font-weight="bold" text-anchor="middle" >DL</text>
<text x="0.00" y="287.00" font-size="17" font-weight="bold" text-anchor="start" >c</text>
<text x="0" y="0" font-size="16" font-weight="bold" text-anchor="middle" transform="translate(29.00 364.40) rotate(-90)" >OER rate (μmol·g<tspan dy="-7.5" font-size="10">-1</tspan><tspan dy="7.5">·h</tspan><tspan dy="-7.5" font-size="10">-1</tspan><tspan dy="7.5">)</tspan></text>
<rect x="415.1" y="270.0" width="254.5" height="195.5" fill="none" stroke="#000" stroke-width="1.4"/>
<line x1="411.10" y1="465.50" x2="415.10" y2="465.50" stroke="#000" stroke-width="1.2" />
<line x1="412.90" y1="449.21" x2="415.10" y2="449.21" stroke="#000" stroke-width="1.2" />
<line x1="411.10" y1="432.92" x2="415.10" y2="432.92" stroke="#000" stroke-width="1.2" />
<line x1="412.90" y1="416.63" x2="415.10" y2="416.63" stroke="#000" stroke-width="1.2" />
<line x1="411.10" y1="400.34" x2="415.10" y2="400.34" stroke="#000" stroke-width="1.2" />
<line x1="412.90" y1="384.05" x2="415.10" y2="384.05" stroke="#000" stroke-width="1.2" />
<line x1="411.10" y1="367.76" x2="415.10" y2="367.76" stroke="#000" stroke-width="1.2" />
<line x1="412.90" y1="351.47" x2="415.10" y2="351.47" stroke="#000" stroke-width="1.2" />
<line x1="411.10" y1="335.18" x2="415.10" y2="335.18" stroke="#000" stroke-width="1.2" />
<line x1="412.90" y1="318.89" x2="415.10" y2="318.89" stroke="#000" stroke-width="1.2" />
<line x1="411.10" y1="302.60" x2="415.10" y2="302.60" stroke="#000" stroke-width="1.2" />
<line x1="412.90" y1="286.31" x2="415.10" y2="286.31" stroke="#000" stroke-width="1.2" />
<line x1="411.10" y1="270.02" x2="415.10" y2="270.02" stroke="#000" stroke-width="1.2" />
<line x1="415.10" y1="465.50" x2="415.10" y2="469.50" stroke="#000" stroke-width="1.2" />
<line x1="438.26" y1="465.50" x2="438.26" y2="467.70" stroke="#000" stroke-width="1.2" />
<line x1="461.42" y1="465.50" x2="461.42" y2="469.50" stroke="#000" stroke-width="1.2" />
<line x1="484.58" y1="465.50" x2="484.58" y2="467.70" stroke="#000" stroke-width="1.2" />
<line x1="507.74" y1="465.50" x2="507.74" y2="469.50" stroke="#000" stroke-width="1.2" />
<line x1="530.90" y1="465.50" x2="530.90" y2="467.70" stroke="#000" stroke-width="1.2" />
<line x1="554.06" y1="465.50" x2="554.06" y2="469.50" stroke="#000" stroke-width="1.2" />
<line x1="577.22" y1="465.50" x2="577.22" y2="467.70" stroke="#000" stroke-width="1.2" />
<line x1="600.38" y1="465.50" x2="600.38" y2="469.50" stroke="#000" stroke-width="1.2" />
<line x1="623.54" y1="465.50" x2="623.54" y2="467.70" stroke="#000" stroke-width="1.2" />
<line x1="646.70" y1="465.50" x2="646.70" y2="469.50" stroke="#000" stroke-width="1.2" />
<line x1="669.86" y1="465.50" x2="669.86" y2="467.70" stroke="#000" stroke-width="1.2" />
<text x="409.50" y="471.30" font-size="16" font-weight="bold" text-anchor="end" >0</text>
<text x="409.50" y="438.72" font-size="16" font-weight="bold" text-anchor="end" >1</text>
<text x="409.50" y="406.14" font-size="16" font-weight="bold" text-anchor="end" >2</text>
<text x="409.50" y="373.56" font-size="16" font-weight="bold" text-anchor="end" >3</text>
<text x="409.50" y="340.98" font-size="16" font-weight="bold" text-anchor="end" >4</text>
<text x="409.50" y="308.40" font-size="16" font-weight="bold" text-anchor="end" >5</text>
<text x="409.50" y="275.82" font-size="16" font-weight="bold" text-anchor="end" >6</text>
<text x="461.42" y="484.50" font-size="16" font-weight="bold" text-anchor="middle" >20</text>
<text x="507.74" y="484.50" font-size="16" font-weight="bold" text-anchor="middle" >40</text>
<text x="554.06" y="484.50" font-size="16" font-weight="bold" text-anchor="middle" >60</text>
<text x="600.38" y="484.50" font-size="16" font-weight="bold" text-anchor="middle" >80</text>
<text x="646.70" y="484.50" font-size="16" font-weight="bold" text-anchor="middle" >100</text>
<text x="386.60" y="484.00" font-size="16" font-weight="bold" text-anchor="middle" >0</text>
<text x="542.80" y="504.00" font-size="16" font-weight="bold" text-anchor="middle" >Time (min)</text>
<text x="362.20" y="288.30" font-size="17" font-weight="bold" text-anchor="start" >d</text>
<text x="0" y="0" font-size="16" font-weight="bold" text-anchor="middle" transform="translate(390.00 378.00) rotate(-90)" >-ln(C/C<tspan dy="4" font-size="11">0</tspan><tspan dy="-4">)</tspan></text>
<line x1="419.73" y1="464.59" x2="646.70" y2="308.14" stroke="#000" stroke-width="2.4" />
<line x1="419.73" y1="463.28" x2="646.70" y2="322.80" stroke="#137a6e" stroke-width="2.4" />
<line x1="419.73" y1="465.57" x2="646.70" y2="341.04" stroke="#c14ca6" stroke-width="2.4" />
<line x1="415.10" y1="463.22" x2="646.70" y2="398.06" stroke="#3a52a6" stroke-width="2.4" />
<line x1="461.42" y1="433.90" x2="461.42" y2="437.16" stroke="#000" stroke-width="1.2" />
<line x1="459.02" y1="433.90" x2="463.82" y2="433.90" stroke="#000" stroke-width="1.2" />
<line x1="459.02" y1="437.16" x2="463.82" y2="437.16" stroke="#000" stroke-width="1.2" />
<rect x="458.48" y="432.58" width="5.89" height="5.89" fill="#000"/>
<line x1="507.74" y1="405.55" x2="507.74" y2="410.11" stroke="#000" stroke-width="1.2" />
<line x1="505.34" y1="405.55" x2="510.14" y2="405.55" stroke="#000" stroke-width="1.2" />
<line x1="505.34" y1="410.11" x2="510.14" y2="410.11" stroke="#000" stroke-width="1.2" />
<rect x="504.80" y="404.89" width="5.89" height="5.89" fill="#000"/>
<line x1="554.06" y1="374.28" x2="554.06" y2="380.79" stroke="#000" stroke-width="1.2" />
<line x1="551.66" y1="374.28" x2="556.46" y2="374.28" stroke="#000" stroke-width="1.2" />
<line x1="551.66" y1="380.79" x2="556.46" y2="380.79" stroke="#000" stroke-width="1.2" />
<rect x="551.12" y="374.59" width="5.89" height="5.89" fill="#000"/>
<line x1="600.38" y1="336.81" x2="600.38" y2="346.58" stroke="#000" stroke-width="1.2" />
<line x1="597.98" y1="336.81" x2="602.78" y2="336.81" stroke="#000" stroke-width="1.2" />
<line x1="597.98" y1="346.58" x2="602.78" y2="346.58" stroke="#000" stroke-width="1.2" />
<rect x="597.44" y="338.75" width="5.89" height="5.89" fill="#000"/>
<line x1="646.70" y1="301.30" x2="646.70" y2="311.07" stroke="#000" stroke-width="1.2" />
<line x1="644.30" y1="301.30" x2="649.10" y2="301.30" stroke="#000" stroke-width="1.2" />
<line x1="644.30" y1="311.07" x2="649.10" y2="311.07" stroke="#000" stroke-width="1.2" />
<rect x="643.76" y="303.24" width="5.89" height="5.89" fill="#000"/>
<line x1="461.42" y1="440.41" x2="461.42" y2="444.97" stroke="#137a6e" stroke-width="1.2" />
<line x1="459.02" y1="440.41" x2="463.82" y2="440.41" stroke="#137a6e" stroke-width="1.2" />
<line x1="459.02" y1="444.97" x2="463.82" y2="444.97" stroke="#137a6e" stroke-width="1.2" />
<path d="M461.42,446.56 L465.28,439.80 L457.56,439.80 Z" fill="#137a6e"/>
<line x1="507.74" y1="409.46" x2="507.74" y2="415.33" stroke="#137a6e" stroke-width="1.2" />
<line x1="505.34" y1="409.46" x2="510.14" y2="409.46" stroke="#137a6e" stroke-width="1.2" />
<line x1="505.34" y1="415.33" x2="510.14" y2="415.33" stroke="#137a6e" stroke-width="1.2" />
<path d="M507.74,416.26 L511.60,409.50 L503.88,409.50 Z" fill="#137a6e"/>
<line x1="554.06" y1="382.42" x2="554.06" y2="388.29" stroke="#137a6e" stroke-width="1.2" />
<line x1="551.66" y1="382.42" x2="556.46" y2="382.42" stroke="#137a6e" stroke-width="1.2" />
<line x1="551.66" y1="388.29" x2="556.46" y2="388.29" stroke="#137a6e" stroke-width="1.2" />
<path d="M554.06,389.22 L557.92,382.46 L550.20,382.46 Z" fill="#137a6e"/>
<line x1="623.54" y1="340.39" x2="623.54" y2="345.61" stroke="#137a6e" stroke-width="1.2" />
<line x1="621.14" y1="340.39" x2="625.94" y2="340.39" stroke="#137a6e" stroke-width="1.2" />
<line x1="621.14" y1="345.61" x2="625.94" y2="345.61" stroke="#137a6e" stroke-width="1.2" />
<path d="M623.54,346.86 L627.40,340.10 L619.68,340.10 Z" fill="#137a6e"/>
<line x1="646.70" y1="311.40" x2="646.70" y2="321.17" stroke="#137a6e" stroke-width="1.2" />
<line x1="644.30" y1="311.40" x2="649.10" y2="311.40" stroke="#137a6e" stroke-width="1.2" />
<line x1="644.30" y1="321.17" x2="649.10" y2="321.17" stroke="#137a6e" stroke-width="1.2" />
<path d="M646.70,320.15 L650.56,313.39 L642.84,313.39 Z" fill="#137a6e"/>
<line x1="461.42" y1="441.06" x2="461.42" y2="444.32" stroke="#c14ca6" stroke-width="1.2" />
<line x1="459.02" y1="441.06" x2="463.82" y2="441.06" stroke="#c14ca6" stroke-width="1.2" />
<line x1="459.02" y1="444.32" x2="463.82" y2="444.32" stroke="#c14ca6" stroke-width="1.2" />
<circle cx="461.42" cy="442.69" r="3.40" fill="#c14ca6"/>
<line x1="507.74" y1="423.80" x2="507.74" y2="425.75" stroke="#c14ca6" stroke-width="1.2" />
<line x1="505.34" y1="423.80" x2="510.14" y2="423.80" stroke="#c14ca6" stroke-width="1.2" />
<line x1="505.34" y1="425.75" x2="510.14" y2="425.75" stroke="#c14ca6" stroke-width="1.2" />
<circle cx="507.74" cy="424.77" r="3.40" fill="#c14ca6"/>
<line x1="554.06" y1="397.41" x2="554.06" y2="401.32" stroke="#c14ca6" stroke-width="1.2" />
<line x1="551.66" y1="397.41" x2="556.46" y2="397.41" stroke="#c14ca6" stroke-width="1.2" />
<line x1="551.66" y1="401.32" x2="556.46" y2="401.32" stroke="#c14ca6" stroke-width="1.2" />
<circle cx="554.06" cy="399.36" r="3.40" fill="#c14ca6"/>
<line x1="600.38" y1="361.24" x2="600.38" y2="374.28" stroke="#c14ca6" stroke-width="1.2" />
<line x1="597.98" y1="361.24" x2="602.78" y2="361.24" stroke="#c14ca6" stroke-width="1.2" />
<line x1="597.98" y1="374.28" x2="602.78" y2="374.28" stroke="#c14ca6" stroke-width="1.2" />
<circle cx="600.38" cy="367.76" r="3.40" fill="#c14ca6"/>
<line x1="646.70" y1="333.88" x2="646.70" y2="341.70" stroke="#c14ca6" stroke-width="1.2" />
<line x1="644.30" y1="333.88" x2="649.10" y2="333.88" stroke="#c14ca6" stroke-width="1.2" />
<line x1="644.30" y1="341.70" x2="649.10" y2="341.70" stroke="#c14ca6" stroke-width="1.2" />
<circle cx="646.70" cy="337.79" r="3.40" fill="#c14ca6"/>
<line x1="461.42" y1="448.23" x2="461.42" y2="450.19" stroke="#3a52a6" stroke-width="1.2" />
<line x1="459.02" y1="448.23" x2="463.82" y2="448.23" stroke="#3a52a6" stroke-width="1.2" />
<line x1="459.02" y1="450.19" x2="463.82" y2="450.19" stroke="#3a52a6" stroke-width="1.2" />
<path d="M461.42,444.98 L464.59,449.21 L461.42,453.44 L458.25,449.21 Z" fill="#3a52a6"/>
<line x1="507.74" y1="437.16" x2="507.74" y2="439.11" stroke="#3a52a6" stroke-width="1.2" />
<line x1="505.34" y1="437.16" x2="510.14" y2="437.16" stroke="#3a52a6" stroke-width="1.2" />
<line x1="505.34" y1="439.11" x2="510.14" y2="439.11" stroke="#3a52a6" stroke-width="1.2" />
<path d="M507.74,433.90 L510.91,438.13 L507.74,442.36 L504.57,438.13 Z" fill="#3a52a6"/>
<line x1="554.06" y1="425.10" x2="554.06" y2="427.06" stroke="#3a52a6" stroke-width="1.2" />
<line x1="551.66" y1="425.10" x2="556.46" y2="425.10" stroke="#3a52a6" stroke-width="1.2" />
<line x1="551.66" y1="427.06" x2="556.46" y2="427.06" stroke="#3a52a6" stroke-width="1.2" />
<path d="M554.06,421.85 L557.23,426.08 L554.06,430.31 L550.89,426.08 Z" fill="#3a52a6"/>
<line x1="600.38" y1="411.74" x2="600.38" y2="413.70" stroke="#3a52a6" stroke-width="1.2" />
<line x1="597.98" y1="411.74" x2="602.78" y2="411.74" stroke="#3a52a6" stroke-width="1.2" />
<line x1="597.98" y1="413.70" x2="602.78" y2="413.70" stroke="#3a52a6" stroke-width="1.2" />
<path d="M600.38,408.49 L603.55,412.72 L600.38,416.95 L597.21,412.72 Z" fill="#3a52a6"/>
<line x1="646.70" y1="397.08" x2="646.70" y2="400.34" stroke="#3a52a6" stroke-width="1.2" />
<line x1="644.30" y1="397.08" x2="649.10" y2="397.08" stroke="#3a52a6" stroke-width="1.2" />
<line x1="644.30" y1="400.34" x2="649.10" y2="400.34" stroke="#3a52a6" stroke-width="1.2" />
<path d="M646.70,394.48 L649.87,398.71 L646.70,402.94 L643.53,398.71 Z" fill="#3a52a6"/>
<rect x="446.2" y="273.9" width="97.80000000000001" height="82.40000000000003" fill="#bfd5ee" stroke="#000" stroke-width="1.8"/>
<line x1="460.20" y1="297.90" x2="460.20" y2="357.80" stroke="#000" stroke-width="1.9" />
<text x="459.30" y="295.50" font-size="9.2" font-weight="bold" text-anchor="middle" >0.049</text>
<line x1="483.40" y1="303.70" x2="483.40" y2="357.80" stroke="#137a6e" stroke-width="1.9" />
<text x="482.60" y="302.50" font-size="9.2" font-weight="bold" text-anchor="middle" >0.044</text>
<line x1="506.70" y1="309.90" x2="506.70" y2="357.80" stroke="#c14ca6" stroke-width="1.9" />
<text x="508.50" y="309.30" font-size="9.2" font-weight="bold" text-anchor="middle" >0.039</text>
<line x1="529.70" y1="331.90" x2="529.70" y2="357.80" stroke="#3a52a6" stroke-width="1.9" />
<text x="530.90" y="330.50" font-size="9.2" font-weight="bold" text-anchor="middle" >0.020</text>
<text x="456.90" y="370.70" font-size="12.3" font-weight="bold" text-anchor="middle" >L</text>
<text x="481.90" y="370.70" font-size="12.3" font-weight="bold" text-anchor="middle" >L+D</text>
<text x="508.10" y="370.70" font-size="12.3" font-weight="bold" text-anchor="middle" >D</text>
<text x="535.00" y="370.70" font-size="12.3" font-weight="bold" text-anchor="middle" >DL</text>
<text x="0" y="0" font-size="15" font-weight="bold" text-anchor="middle" transform="translate(436.20 315.20) rotate(-90)" >k<tspan font-size="9.5">(</tspan>min<tspan dy="-7.5" font-size="9.5">-1</tspan><tspan dy="7.5" font-size="10">)</tspan></text>
</svg></body></html>
